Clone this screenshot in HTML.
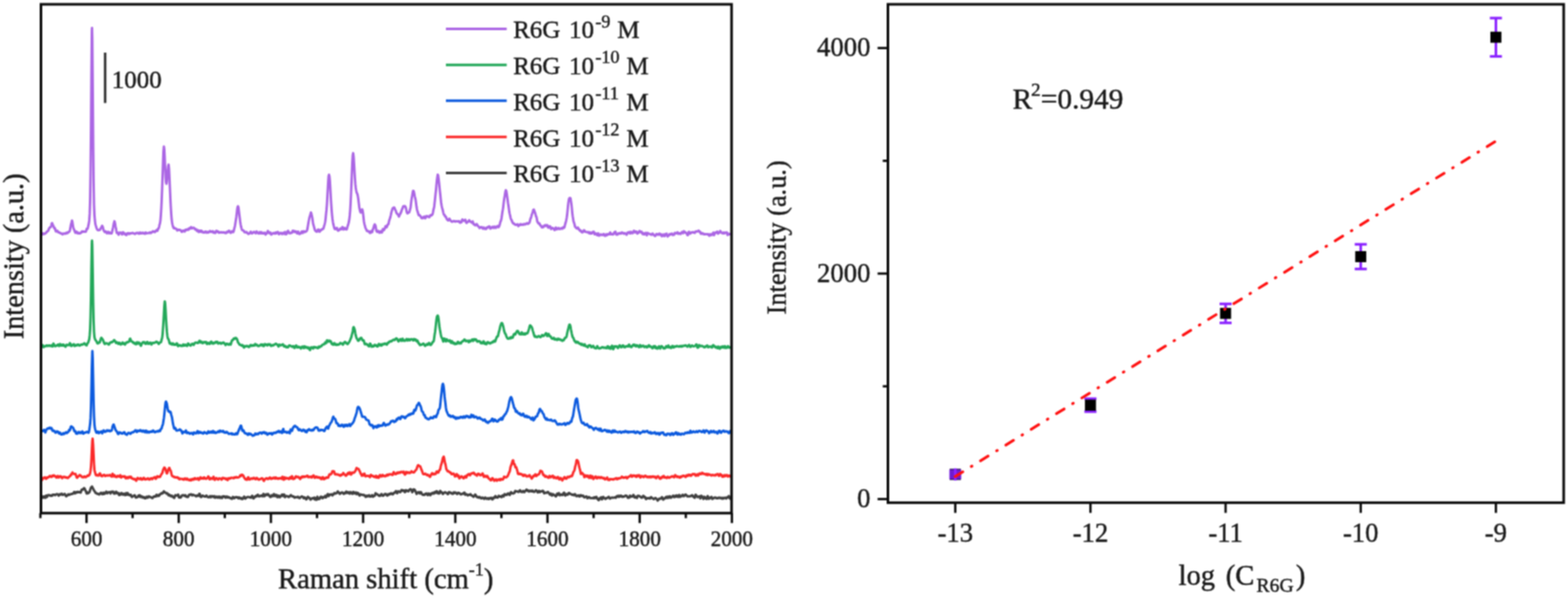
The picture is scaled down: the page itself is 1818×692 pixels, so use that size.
<!DOCTYPE html>
<html><head><meta charset="utf-8"><title>R6G SERS</title>
<style>html,body{margin:0;padding:0;background:#fff;width:1818px;height:692px;overflow:hidden}svg{display:block}</style>
</head><body><div id="w">
<svg width="1818" height="692" viewBox="0 0 1818 692" font-family="'Liberation Serif','Times New Roman',serif">
<defs><filter id="soft" x="0" y="0" width="1818" height="692" filterUnits="userSpaceOnUse" color-interpolation-filters="sRGB"><feConvolveMatrix order="3" kernelMatrix="1 2 1 2 4 2 1 2 1" divisor="16" edgeMode="duplicate"/></filter></defs>
<g filter="url(#soft)">
<rect width="1818" height="692" fill="#fff"/>
<path d="M48.0 575.3L48.5 575.0L49.0 575.7L49.5 576.7L50.0 577.0L50.5 576.2L51.0 575.3L51.5 575.4L52.0 576.5L52.5 577.1L53.0 575.9L53.5 574.4L54.0 574.9L54.5 576.1L55.0 575.3L55.5 574.0L56.0 574.0L56.5 574.0L57.0 573.9L57.5 574.0L58.0 574.3L58.5 574.8L59.0 574.6L59.5 574.3L60.0 574.8L60.5 574.6L61.0 573.5L61.5 573.3L62.0 573.5L62.5 573.4L63.0 573.3L63.5 573.7L64.0 574.0L64.5 573.5L65.0 573.1L65.5 573.0L66.0 572.7L66.5 572.8L67.0 573.3L67.5 573.6L68.0 574.5L68.5 574.0L69.0 572.8L69.5 572.9L70.0 573.1L70.5 573.4L71.0 573.0L71.5 572.2L72.0 572.7L72.5 573.6L73.0 573.7L73.5 573.3L74.0 573.2L74.5 572.8L75.0 572.5L75.5 573.2L76.0 574.2L76.5 575.0L77.0 575.3L77.5 574.8L78.0 574.3L78.5 573.8L79.0 573.0L79.5 573.3L80.0 573.8L80.5 573.2L81.0 572.9L81.5 573.1L82.0 573.1L82.5 572.6L83.0 572.5L83.5 572.7L84.0 572.3L84.5 572.1L85.0 572.1L85.5 571.1L86.0 570.3L86.5 570.9L87.0 571.9L87.5 571.4L88.0 570.4L88.5 570.5L89.0 570.9L89.5 570.2L90.0 570.1L90.5 570.6L91.0 570.2L91.5 570.2L92.0 570.5L92.5 570.3L93.0 570.8L93.5 571.1L94.0 569.8L94.5 568.0L95.0 567.4L95.5 567.6L96.0 567.5L96.5 566.9L97.0 566.2L97.5 565.8L98.0 566.2L98.5 567.3L99.0 568.5L99.5 569.3L100.0 570.7L100.5 572.1L101.0 571.3L101.5 570.8L102.0 571.9L102.5 571.6L103.0 570.7L103.5 570.8L104.0 569.9L104.5 568.2L105.0 566.6L105.5 565.2L106.0 564.6L106.5 564.3L106.7 563.9L107.0 564.6L107.5 565.9L108.0 566.3L108.5 567.6L109.0 568.7L109.5 569.0L110.0 569.7L110.5 571.0L111.0 571.5L111.5 571.4L112.0 571.7L112.5 572.3L113.0 572.4L113.5 572.6L114.0 572.5L114.5 572.8L115.0 573.3L115.5 572.8L116.0 572.2L116.5 571.9L117.0 571.1L117.5 571.3L118.0 572.2L118.5 572.8L119.0 572.8L119.5 571.5L120.0 571.1L120.5 572.6L121.0 572.4L121.5 571.5L122.0 571.9L122.5 571.2L123.0 569.9L123.5 570.1L124.0 571.2L124.5 571.8L125.0 571.0L125.5 570.6L126.0 570.7L126.5 570.4L127.0 570.3L127.5 571.2L128.0 572.0L128.5 571.4L129.0 570.1L129.5 569.9L130.0 570.4L130.5 570.3L131.0 569.8L131.5 570.3L132.0 572.1L132.5 572.1L133.0 571.1L133.5 572.0L134.0 571.7L134.5 570.0L135.0 570.1L135.5 571.2L136.0 571.8L136.5 571.7L137.0 571.5L137.5 572.2L138.0 573.8L138.5 573.8L139.0 572.0L139.5 572.1L140.0 573.2L140.5 572.2L141.0 571.5L141.5 572.3L142.0 573.0L142.5 573.4L143.0 572.8L143.5 572.2L144.0 572.7L144.5 573.6L145.0 574.1L145.5 573.0L146.0 571.6L146.5 572.3L147.0 573.5L147.5 572.5L148.0 571.4L148.5 572.2L149.0 573.6L149.5 573.9L150.0 573.5L150.5 574.0L151.0 574.2L151.5 573.5L152.0 574.1L152.5 575.7L153.0 576.1L153.5 575.5L154.0 575.2L154.5 575.2L155.0 574.7L155.5 574.2L156.0 574.0L156.5 574.4L157.0 575.7L157.5 576.7L158.0 576.3L158.5 576.3L159.0 576.5L159.5 576.0L160.0 575.4L160.5 574.4L161.0 575.2L161.5 575.5L162.0 574.0L162.5 574.6L163.0 576.2L163.5 575.8L164.0 575.2L164.5 575.4L165.0 576.1L165.5 576.9L166.0 576.9L166.5 576.3L167.0 576.1L167.5 576.9L168.0 577.7L168.5 577.7L169.0 577.3L169.5 576.5L170.0 575.7L170.5 576.1L171.0 577.0L171.5 576.8L172.0 575.6L172.5 575.3L173.0 576.0L173.5 576.2L174.0 575.9L174.5 576.1L175.0 576.4L175.5 576.7L176.0 577.1L176.5 577.3L177.0 577.3L177.5 576.5L178.0 575.6L178.5 575.5L179.0 575.5L179.5 575.4L180.0 575.7L180.5 575.7L181.0 574.1L181.5 573.6L182.0 574.8L182.5 575.0L183.0 574.3L183.5 574.0L184.0 574.8L184.5 574.7L185.0 573.5L185.5 572.9L186.0 572.8L186.5 572.4L187.0 571.7L187.5 571.6L188.0 572.1L188.5 571.8L189.0 571.2L189.5 570.2L190.0 569.4L190.5 570.2L191.0 570.8L191.5 570.8L192.0 571.0L192.5 571.4L193.0 572.1L193.5 572.0L194.0 571.7L194.5 572.4L195.0 573.6L195.5 574.2L196.0 573.5L196.5 573.5L197.0 574.4L197.5 574.8L198.0 575.3L198.5 575.2L199.0 574.4L199.5 574.7L200.0 575.7L200.5 576.1L201.0 575.9L201.5 576.8L202.0 577.2L202.5 575.7L203.0 574.3L203.5 573.9L204.0 574.0L204.5 574.3L205.0 574.3L205.5 574.5L206.0 574.4L206.5 573.3L207.0 574.2L207.5 576.6L208.0 576.8L208.5 576.1L209.0 576.3L209.5 576.7L210.0 576.1L210.5 574.9L211.0 574.2L211.5 574.3L212.0 574.2L212.5 573.9L213.0 574.1L213.5 574.4L214.0 574.8L214.5 574.8L215.0 574.0L215.5 574.7L216.0 575.8L216.5 575.7L217.0 575.8L217.5 576.2L218.0 576.0L218.5 575.0L219.0 573.7L219.5 573.7L220.0 573.6L220.5 573.1L221.0 573.2L221.5 572.9L222.0 573.0L222.5 574.1L223.0 574.3L223.5 573.8L224.0 573.5L224.5 573.8L225.0 574.0L225.5 574.2L226.0 574.3L226.5 574.5L227.0 575.0L227.5 575.3L228.0 574.9L228.5 574.2L229.0 574.3L229.5 574.8L230.0 574.8L230.5 573.9L231.0 572.3L231.5 572.3L232.0 574.3L232.5 575.7L233.0 576.2L233.5 576.0L234.0 575.4L234.5 574.6L235.0 574.4L235.5 575.0L236.0 575.1L236.5 575.3L237.0 575.5L237.5 575.7L238.0 575.7L238.5 575.0L239.0 574.5L239.5 574.4L240.0 575.3L240.5 576.1L241.0 576.0L241.5 576.3L242.0 576.5L242.5 576.4L243.0 575.8L243.5 575.1L244.0 575.9L244.5 576.4L245.0 575.5L245.5 575.0L246.0 575.1L246.5 575.1L247.0 575.5L247.5 576.2L248.0 575.4L248.5 575.0L249.0 576.6L249.5 577.1L250.0 576.5L250.5 576.1L251.0 575.6L251.5 575.7L252.0 576.5L252.5 577.0L253.0 576.8L253.5 576.1L254.0 575.5L254.5 576.0L255.0 577.1L255.5 577.2L256.0 576.0L256.5 576.0L257.0 576.9L257.5 577.2L258.0 576.3L258.5 575.3L259.0 575.2L259.5 575.7L260.0 575.5L260.5 575.5L261.0 576.6L261.5 577.0L262.0 576.2L262.5 575.6L263.0 576.3L263.5 576.7L264.0 575.8L264.5 576.3L265.0 576.7L265.5 576.4L266.0 576.6L266.5 576.9L267.0 577.4L267.5 577.3L268.0 577.5L268.5 578.2L269.0 578.2L269.5 577.3L270.0 576.0L270.5 576.1L271.0 577.3L271.5 577.5L272.0 577.2L272.5 576.9L273.0 576.3L273.5 576.2L274.0 576.2L274.5 576.5L275.0 576.4L275.5 576.3L276.0 577.3L276.5 577.8L277.0 576.6L277.5 576.5L278.0 577.3L278.5 577.6L279.0 578.1L279.5 577.7L280.0 577.2L280.5 577.8L281.0 578.5L281.5 578.1L282.0 577.6L282.5 576.7L283.0 575.6L283.5 576.2L284.0 577.8L284.5 578.0L285.0 577.5L285.5 577.1L286.0 576.6L286.5 576.3L287.0 576.1L287.5 576.2L288.0 576.0L288.5 576.1L289.0 576.4L289.5 576.4L290.0 576.7L290.5 576.8L291.0 576.9L291.5 576.6L292.0 574.9L292.5 574.6L293.0 576.1L293.5 577.4L294.0 577.7L294.5 577.2L295.0 576.2L295.5 575.6L296.0 576.0L296.5 575.9L297.0 574.7L297.5 574.4L298.0 575.1L298.5 574.5L299.0 573.4L299.5 574.4L300.0 575.3L300.5 575.2L301.0 575.4L301.5 575.1L302.0 574.6L302.5 574.8L303.0 574.5L303.5 574.2L304.0 575.1L304.5 575.3L305.0 573.7L305.5 572.5L306.0 573.6L306.5 575.2L307.0 575.0L307.5 574.1L308.0 573.6L308.5 572.8L309.0 572.8L309.5 573.9L310.0 573.9L310.5 572.7L311.0 572.7L311.5 573.5L312.0 574.2L312.5 574.9L313.0 575.7L313.5 576.1L314.0 576.1L314.5 575.3L315.0 574.0L315.5 574.1L316.0 575.2L316.5 575.2L317.0 574.0L317.5 572.7L318.0 573.0L318.5 574.7L319.0 575.1L319.5 574.5L320.0 573.8L320.5 573.6L321.0 574.9L321.5 576.2L322.0 576.4L322.5 575.4L323.0 574.5L323.5 574.6L324.0 576.0L324.5 576.4L325.0 575.3L325.5 575.1L326.0 575.1L326.5 574.0L327.0 573.2L327.5 574.3L328.0 575.0L328.5 574.2L329.0 573.1L329.5 573.3L330.0 575.3L330.5 576.2L331.0 575.5L331.5 575.1L332.0 574.9L332.5 575.1L333.0 575.2L333.5 575.3L334.0 575.5L334.5 576.2L335.0 576.2L335.5 575.3L336.0 575.2L336.5 575.0L337.0 574.0L337.5 574.0L338.0 575.1L338.5 575.1L339.0 575.2L339.5 575.6L340.0 575.4L340.5 575.6L341.0 576.2L341.5 576.9L342.0 576.7L342.5 576.1L343.0 576.4L343.5 576.4L344.0 576.1L344.5 576.3L345.0 576.3L345.5 575.8L346.0 576.4L346.5 577.1L347.0 577.2L347.5 577.4L348.0 576.7L348.5 576.2L349.0 576.0L349.5 575.5L350.0 575.4L350.5 575.8L351.0 576.1L351.5 576.3L352.0 577.5L352.5 577.5L353.0 576.4L353.5 576.8L354.0 577.2L354.5 577.8L355.0 578.9L355.5 578.6L356.0 577.6L356.5 576.4L357.0 575.8L357.5 576.5L358.0 576.8L358.5 576.9L359.0 577.5L359.5 578.4L360.0 579.1L360.5 578.9L361.0 578.3L361.5 577.6L362.0 577.7L362.5 577.4L363.0 577.3L363.5 578.0L364.0 577.1L364.5 576.8L365.0 578.8L365.5 579.1L366.0 577.4L366.5 577.8L367.0 579.3L367.5 577.8L368.0 575.8L368.5 576.9L369.0 578.6L369.5 578.5L370.0 578.2L370.5 578.3L371.0 577.6L371.5 576.2L372.0 575.6L372.5 575.9L373.0 575.8L373.5 576.5L374.0 577.5L374.5 577.0L375.0 576.1L375.5 576.1L376.0 576.4L376.5 575.9L377.0 574.8L377.5 575.5L378.0 576.6L378.5 575.8L379.0 574.3L379.5 573.3L380.0 572.7L380.5 573.7L381.0 575.1L381.5 574.4L382.0 573.2L382.5 573.2L383.0 573.5L383.5 573.4L384.0 573.0L384.5 573.0L385.0 573.9L385.5 574.2L386.0 572.9L386.5 572.7L387.0 572.9L387.5 571.8L388.0 571.5L388.5 572.0L389.0 572.2L389.5 571.7L390.0 571.5L390.5 571.5L391.0 570.6L391.5 569.6L392.0 570.1L392.5 571.0L393.0 570.9L393.5 571.6L394.0 572.5L394.5 572.3L395.0 571.5L395.5 571.1L396.0 571.2L396.5 570.7L397.0 570.8L397.5 571.5L398.0 571.8L398.5 572.5L399.0 572.1L399.5 571.3L400.0 571.8L400.5 571.8L401.0 570.4L401.5 569.8L402.0 570.2L402.5 571.0L403.0 571.5L403.5 571.0L404.0 570.4L404.5 570.8L405.0 572.0L405.5 572.2L406.0 571.0L406.5 570.3L407.0 571.0L407.5 571.4L408.0 571.8L408.5 572.4L409.0 571.7L409.5 570.2L410.0 570.4L410.5 571.7L411.0 572.0L411.5 571.8L412.0 571.1L412.5 570.8L413.0 571.9L413.5 572.9L414.0 572.2L414.5 571.2L415.0 571.4L415.5 571.9L416.0 572.7L416.5 574.0L417.0 574.5L417.5 573.6L418.0 572.9L418.5 573.2L419.0 573.3L419.5 573.3L420.0 573.7L420.5 573.6L421.0 573.5L421.5 574.1L422.0 574.0L422.5 573.9L423.0 574.5L423.5 575.2L424.0 576.0L424.5 575.9L425.0 575.0L425.5 574.4L426.0 574.9L426.5 575.3L427.0 575.2L427.5 574.7L428.0 574.0L428.5 574.7L429.0 575.7L429.5 575.5L430.0 575.4L430.5 575.3L431.0 574.3L431.5 573.9L432.0 574.9L432.5 575.7L433.0 575.3L433.5 574.7L434.0 574.8L434.5 574.5L435.0 572.8L435.5 571.7L436.0 572.2L436.5 572.8L437.0 573.0L437.5 572.9L438.0 573.3L438.5 574.1L439.0 574.3L439.5 574.6L440.0 574.9L440.5 574.1L441.0 573.9L441.5 574.2L442.0 572.9L442.5 572.7L443.0 574.1L443.5 574.5L444.0 574.3L444.5 574.5L445.0 574.1L445.5 573.3L446.0 572.7L446.5 572.5L447.0 572.9L447.5 573.1L448.0 572.9L448.5 574.1L449.0 574.6L449.5 573.1L450.0 573.0L450.5 573.7L451.0 573.1L451.5 572.4L452.0 572.9L452.5 572.8L453.0 571.9L453.5 571.6L454.0 572.0L454.5 572.6L455.0 573.1L455.5 573.0L456.0 572.0L456.5 571.3L457.0 571.2L457.5 571.3L458.0 571.0L458.5 569.9L459.0 569.3L459.5 569.6L460.0 570.8L460.5 571.7L461.0 570.9L461.5 569.5L462.0 569.4L462.5 569.9L463.0 569.9L463.5 570.2L464.0 570.5L464.5 570.0L465.0 568.7L465.5 568.0L466.0 568.2L466.5 568.2L467.0 568.9L467.5 569.1L468.0 568.5L468.5 568.6L469.0 569.6L469.5 570.5L470.0 569.4L470.5 568.1L471.0 568.8L471.5 569.3L472.0 568.7L472.5 568.7L473.0 569.3L473.5 569.5L474.0 568.9L474.5 568.0L475.0 567.6L475.5 567.0L476.0 566.9L476.5 567.4L477.0 567.7L477.5 569.0L478.0 570.6L478.5 569.8L479.0 567.9L479.5 567.2L480.0 567.6L480.5 567.5L481.0 567.9L481.5 569.4L482.0 570.0L482.5 571.3L483.0 572.6L483.5 571.8L484.0 570.9L484.5 571.0L485.0 570.7L485.5 570.5L486.0 571.3L486.5 572.1L487.0 571.4L487.5 570.4L488.0 570.4L488.5 571.1L489.0 572.2L489.5 573.0L490.0 573.5L490.5 573.6L491.0 573.4L491.5 573.5L492.0 573.7L492.5 573.0L493.0 572.4L493.5 572.7L494.0 572.0L494.5 571.9L495.0 572.9L495.5 573.4L496.0 573.9L496.5 573.0L497.0 572.0L497.5 572.1L498.0 572.7L498.5 573.8L499.0 574.1L499.5 573.0L500.0 572.0L500.5 572.2L501.0 572.3L501.5 571.3L502.0 571.1L502.5 572.1L503.0 572.2L503.5 571.4L504.0 570.4L504.5 570.2L505.0 571.2L505.5 570.9L506.0 569.6L506.5 569.4L507.0 570.5L507.5 571.9L508.0 571.4L508.5 570.8L509.0 572.1L509.5 572.0L510.0 569.6L510.5 569.0L511.0 570.4L511.5 570.7L512.0 570.4L512.5 570.9L513.0 572.0L513.5 572.6L514.0 571.9L514.5 571.1L515.0 571.2L515.5 570.9L516.0 570.5L516.5 571.1L517.0 571.2L517.5 571.1L518.0 571.5L518.5 572.0L519.0 572.8L519.5 572.7L520.0 571.2L520.5 570.4L521.0 570.6L521.5 571.0L522.0 571.2L522.5 570.9L523.0 571.2L523.5 572.2L524.0 572.2L524.5 572.1L525.0 572.6L525.5 572.0L526.0 570.6L526.5 570.9L527.0 571.4L527.5 570.9L528.0 570.7L528.5 571.2L529.0 571.7L529.5 572.1L530.0 572.7L530.5 572.3L531.0 571.1L531.5 571.1L532.0 571.6L532.5 571.5L533.0 571.7L533.5 572.5L534.0 572.9L534.5 573.1L535.0 573.0L535.5 572.5L536.0 572.3L536.5 572.2L537.0 572.4L537.5 572.3L538.0 571.1L538.5 571.0L539.0 572.7L539.5 573.5L540.0 573.0L540.5 572.6L541.0 572.9L541.5 573.5L542.0 573.9L542.5 574.3L543.0 573.8L543.5 573.4L544.0 573.7L544.5 573.7L545.0 573.3L545.5 572.8L546.0 573.5L546.5 574.3L547.0 574.1L547.5 574.4L548.0 574.9L548.5 575.5L549.0 575.9L549.5 575.2L550.0 574.6L550.5 574.2L551.0 573.2L551.5 573.7L552.0 575.0L552.5 575.8L553.0 576.3L553.5 575.9L554.0 575.9L554.5 576.5L555.0 576.9L555.5 576.8L556.0 576.0L556.5 576.3L557.0 577.0L557.5 577.3L558.0 577.8L558.5 577.6L559.0 576.8L559.5 576.7L560.0 577.3L560.5 577.6L561.0 578.1L561.5 578.4L562.0 577.5L562.5 576.6L563.0 577.1L563.5 577.8L564.0 578.0L564.5 578.3L565.0 578.1L565.5 577.6L566.0 577.4L566.5 577.9L567.0 578.5L567.5 577.9L568.0 577.3L568.5 577.6L569.0 577.7L569.5 576.9L570.0 577.2L570.5 578.7L571.0 578.9L571.5 578.3L572.0 577.4L572.5 576.6L573.0 577.2L573.5 577.1L574.0 575.6L574.5 575.0L575.0 575.8L575.5 576.6L576.0 576.7L576.5 576.7L577.0 576.8L577.5 576.2L578.0 574.9L578.5 574.7L579.0 575.3L579.5 575.6L580.0 575.5L580.5 575.5L581.0 576.0L581.5 576.3L582.0 575.3L582.5 574.3L583.0 574.2L583.5 575.0L584.0 575.5L584.5 574.0L585.0 572.8L585.5 573.3L586.0 573.5L586.5 573.1L587.0 573.6L587.5 573.8L588.0 573.0L588.5 572.3L589.0 572.0L589.5 571.9L590.0 572.3L590.5 573.5L591.0 573.7L591.5 572.5L592.0 571.2L592.5 570.4L593.0 570.9L593.5 571.8L594.0 571.9L594.5 571.9L595.0 572.0L595.5 571.4L596.0 571.4L596.5 571.3L597.0 569.7L597.5 569.1L598.0 569.5L598.5 569.5L599.0 569.6L599.5 569.7L600.0 569.6L600.5 570.0L601.0 570.3L601.5 570.1L602.0 569.5L602.5 568.6L603.0 568.3L603.5 569.1L604.0 569.9L604.5 570.1L605.0 570.3L605.5 570.4L606.0 569.7L606.5 569.1L607.0 569.6L607.5 570.3L608.0 570.5L608.5 569.8L609.0 569.0L609.5 568.7L610.0 568.1L610.5 567.5L611.0 567.9L611.5 568.9L612.0 569.1L612.5 568.6L613.0 569.2L613.5 569.8L614.0 569.3L614.5 569.0L615.0 568.7L615.5 568.8L616.0 569.5L616.5 569.5L617.0 568.6L617.5 568.7L618.0 569.8L618.5 570.0L619.0 570.0L619.5 570.2L620.0 569.9L620.5 569.2L621.0 568.5L621.5 568.2L622.0 568.7L622.5 569.0L623.0 569.8L623.5 570.8L624.0 570.5L624.5 569.3L625.0 568.9L625.5 570.1L626.0 570.6L626.5 569.8L627.0 569.6L627.5 569.6L628.0 569.6L628.5 569.2L629.0 568.8L629.5 568.8L630.0 569.6L630.5 571.2L631.0 571.8L631.5 571.2L632.0 571.0L632.5 571.1L633.0 571.3L633.5 571.3L634.0 571.1L634.5 570.8L635.0 570.2L635.5 570.3L636.0 571.1L636.5 571.7L637.0 572.4L637.5 573.2L638.0 572.6L638.5 572.1L639.0 572.9L639.5 574.0L640.0 574.5L640.5 573.8L641.0 572.7L641.5 573.0L642.0 573.8L642.5 574.0L643.0 573.9L643.5 574.1L644.0 575.0L644.5 575.4L645.0 574.8L645.5 573.5L646.0 572.1L646.5 572.3L647.0 573.5L647.5 573.1L648.0 571.6L648.5 572.5L649.0 574.2L649.5 574.1L650.0 573.3L650.5 573.3L651.0 573.1L651.5 573.1L652.0 573.9L652.5 573.7L653.0 572.4L653.5 571.5L654.0 571.0L654.5 571.7L655.0 573.7L655.5 574.4L656.0 573.8L656.5 573.2L657.0 572.6L657.5 572.8L658.0 573.5L658.5 573.3L659.0 572.4L659.5 571.3L660.0 571.3L660.5 572.1L661.0 572.5L661.5 572.7L662.0 572.6L662.5 572.9L663.0 573.4L663.5 573.7L664.0 573.5L664.5 573.1L665.0 573.5L665.5 574.1L666.0 573.6L666.5 572.8L667.0 573.0L667.5 574.0L668.0 574.9L668.5 575.1L669.0 574.9L669.5 575.0L670.0 574.6L670.5 574.1L671.0 574.3L671.5 575.2L672.0 575.6L672.5 575.0L673.0 574.1L673.5 573.9L674.0 574.6L674.5 575.0L675.0 574.8L675.5 574.6L676.0 574.5L676.5 575.1L677.0 576.1L677.5 576.5L678.0 576.2L678.5 576.0L679.0 575.9L679.5 575.5L680.0 575.5L680.5 576.6L681.0 577.5L681.5 577.4L682.0 576.6L682.5 576.2L683.0 576.2L683.5 576.6L684.0 577.1L684.5 577.3L685.0 577.4L685.5 577.3L686.0 577.3L686.5 577.4L687.0 577.2L687.5 577.1L688.0 577.6L688.5 577.4L689.0 576.4L689.5 576.4L690.0 577.4L690.5 577.2L691.0 576.0L691.5 575.9L692.0 577.0L692.5 578.0L693.0 578.5L693.5 579.1L694.0 579.8L694.5 579.4L695.0 577.7L695.5 577.7L696.0 578.1L696.5 576.8L697.0 576.4L697.5 577.7L698.0 578.8L698.5 578.1L699.0 576.3L699.5 576.0L700.0 576.7L700.5 577.1L701.0 577.4L701.5 578.0L702.0 578.3L702.5 577.7L703.0 577.2L703.5 577.5L704.0 577.3L704.5 576.7L705.0 576.5L705.5 575.9L706.0 575.9L706.5 577.2L707.0 577.8L707.5 577.8L708.0 577.4L708.5 577.0L709.0 576.9L709.5 576.7L710.0 576.8L710.5 577.0L711.0 576.8L711.5 576.9L712.0 576.8L712.5 576.6L713.0 576.5L713.5 576.8L714.0 577.1L714.5 576.1L715.0 575.3L715.5 575.8L716.0 575.4L716.5 574.6L717.0 575.8L717.5 576.0L718.0 574.6L718.5 575.0L719.0 575.5L719.5 574.7L720.0 574.5L720.5 575.0L721.0 575.8L721.5 576.0L722.0 575.5L722.5 575.4L723.0 575.8L723.5 575.6L724.0 575.5L724.5 575.3L725.0 574.5L725.5 574.5L726.0 574.6L726.5 574.6L727.0 575.0L727.5 576.0L728.0 577.0L728.5 576.5L729.0 576.2L729.5 576.8L730.0 575.9L730.5 574.5L731.0 575.1L731.5 575.8L732.0 575.4L732.5 575.4L733.0 575.5L733.5 575.2L734.0 574.0L734.5 573.7L735.0 574.8L735.5 576.2L736.0 576.7L736.5 575.9L737.0 575.6L737.5 576.3L738.0 576.9L738.5 577.2L739.0 576.0L739.5 574.6L740.0 574.7L740.5 574.9L741.0 574.8L741.5 575.1L742.0 575.6L742.5 575.8L743.0 576.2L743.5 576.8L744.0 577.0L744.5 576.9L745.0 576.2L745.5 575.0L746.0 574.7L746.5 575.7L747.0 576.2L747.5 575.9L748.0 576.3L748.5 577.7L749.0 578.5L749.5 577.7L750.0 577.2L750.5 577.8L751.0 577.6L751.5 577.5L752.0 577.7L752.5 577.2L753.0 577.3L753.5 577.9L754.0 577.7L754.5 576.6L755.0 576.2L755.5 576.8L756.0 577.4L756.5 577.5L757.0 577.7L757.5 578.2L758.0 578.5L758.5 577.9L759.0 577.7L759.5 577.9L760.0 577.3L760.5 577.6L761.0 578.3L761.5 578.3L762.0 579.3L762.5 580.2L763.0 579.8L763.5 579.1L764.0 578.5L764.5 577.9L765.0 578.0L765.5 578.2L766.0 577.9L766.5 577.7L767.0 576.8L767.5 576.3L768.0 577.2L768.5 578.4L769.0 579.1L769.5 578.5L770.0 577.8L770.5 578.0L771.0 577.8L771.5 577.1L772.0 576.2L772.5 575.9L773.0 577.0L773.5 577.3L774.0 575.7L774.5 575.7L775.0 576.9L775.5 577.1L776.0 576.3L776.5 575.2L777.0 575.6L777.5 576.7L778.0 577.0L778.5 576.3L779.0 575.9L779.5 575.8L780.0 575.1L780.5 574.6L781.0 575.3L781.5 576.3L782.0 576.1L782.5 574.9L783.0 574.6L783.5 575.8L784.0 575.7L784.5 574.1L785.0 574.4L785.5 575.7L786.0 575.9L786.5 576.1L787.0 574.7L787.5 573.7L788.0 575.2L788.5 576.0L789.0 575.5L789.5 574.8L790.0 574.9L790.5 575.1L791.0 573.9L791.5 573.4L792.0 574.4L792.5 574.9L793.0 575.1L793.5 574.5L794.0 574.0L794.5 573.4L795.0 573.2L795.5 574.2L796.0 574.3L796.5 574.6L797.0 575.4L797.5 575.3L798.0 575.2L798.5 575.3L799.0 575.3L799.5 575.4L800.0 575.4L800.5 575.1L801.0 574.7L801.5 574.9L802.0 574.7L802.5 573.9L803.0 574.5L803.5 575.5L804.0 575.4L804.5 575.7L805.0 576.8L805.5 577.0L806.0 575.0L806.5 573.5L807.0 573.8L807.5 574.5L808.0 575.2L808.5 575.9L809.0 576.3L809.5 575.8L810.0 575.7L810.5 575.6L811.0 575.3L811.5 576.4L812.0 577.8L812.5 576.6L813.0 574.7L813.5 574.8L814.0 576.1L814.5 576.3L815.0 576.7L815.5 578.4L816.0 577.7L816.5 575.8L817.0 576.2L817.5 577.5L818.0 577.3L818.5 576.9L819.0 578.3L819.5 578.4L820.0 576.3L820.5 575.0L821.0 575.8L821.5 577.5L822.0 578.2L822.5 577.5L823.0 576.9L823.5 577.3L824.0 577.3L824.5 576.2L825.0 575.9L825.5 577.2L826.0 578.3L826.5 578.1L827.0 577.5L827.5 577.4L828.0 577.3L828.5 576.6L829.0 576.7L829.5 577.0L830.0 576.8L830.5 577.0L831.0 577.6L831.5 577.4L832.0 577.2L832.5 577.5L833.0 577.3L833.5 576.8L834.0 577.1L834.5 577.4L835.0 576.9L835.5 576.8L836.0 577.2L836.5 577.4L837.0 578.0L837.5 578.1L838.0 577.0L838.5 577.1L839.0 577.8L839.5 577.4L840.0 576.9L840.5 577.0L841.0 576.9L841.5 577.4L842.0 577.8L842.5 577.1L843.0 576.4L843.5 576.4L844.0 576.7L844.5 576.0L845.0 574.9L845.5 575.5L846.0 577.3L846.5 578.1L847.0 577.7L847.5 577.3" fill="none" stroke="#404040" stroke-width="2.8" stroke-linejoin="round"/>
<path d="M48.0 554.5L48.5 555.2L49.0 556.2L49.5 555.2L50.0 553.8L50.5 553.8L51.0 554.1L51.5 553.7L52.0 553.2L52.5 553.7L53.0 554.7L53.5 555.0L54.0 554.6L54.5 553.4L55.0 553.3L55.5 553.6L56.0 552.9L56.5 552.9L57.0 552.7L57.5 551.8L58.0 551.7L58.5 552.0L59.0 552.4L59.5 552.9L60.0 552.7L60.5 551.6L61.0 551.3L61.5 551.9L62.0 551.8L62.5 551.0L63.0 551.4L63.5 551.9L64.0 551.8L64.5 552.6L65.0 553.2L65.5 553.6L66.0 553.2L66.5 552.0L67.0 551.7L67.5 552.5L68.0 553.5L68.5 553.4L69.0 552.4L69.5 552.0L70.0 552.0L70.5 552.2L71.0 552.6L71.5 553.6L72.0 554.3L72.5 553.4L73.0 552.9L73.5 553.1L74.0 552.6L74.5 552.6L75.0 553.3L75.5 553.3L76.0 553.0L76.5 553.5L77.0 553.4L77.5 553.4L78.0 553.9L78.5 554.1L79.0 553.9L79.5 553.2L80.0 552.8L80.5 552.2L81.0 551.9L81.5 551.8L82.0 550.4L82.5 549.7L83.0 550.1L83.5 548.6L84.0 547.6L84.5 548.5L85.0 548.9L85.5 549.2L86.0 549.4L86.5 549.5L87.0 549.2L87.5 549.4L88.0 550.6L88.5 552.0L89.0 553.5L89.5 553.8L90.0 552.8L90.5 552.5L91.0 552.3L91.5 551.6L92.0 550.8L92.5 550.6L93.0 551.0L93.5 551.3L94.0 551.7L94.5 552.3L95.0 553.0L95.5 552.9L96.0 552.9L96.5 553.3L97.0 553.0L97.5 552.4L98.0 552.1L98.5 552.4L99.0 553.1L99.5 553.1L100.0 552.7L100.5 552.3L101.0 551.8L101.5 551.2L102.0 551.0L102.5 551.5L103.0 551.3L103.5 550.6L104.0 549.9L104.5 548.1L105.0 545.5L105.5 541.1L106.0 532.6L106.5 521.5L107.0 511.4L107.4 508.3L107.5 509.3L108.0 515.8L108.5 526.7L109.0 537.8L109.5 544.4L110.0 546.9L110.5 548.7L111.0 550.4L111.5 550.9L112.0 550.3L112.5 550.5L113.0 551.2L113.5 551.2L114.0 551.3L114.5 550.9L115.0 549.8L115.5 548.9L116.0 548.6L116.5 550.2L117.0 551.3L117.5 551.0L118.0 551.8L118.5 552.1L119.0 551.3L119.5 551.0L120.0 550.8L120.5 550.4L121.0 550.6L121.5 551.2L122.0 551.8L122.5 551.6L123.0 551.2L123.5 551.2L124.0 550.8L124.5 550.9L125.0 551.3L125.5 551.2L126.0 551.2L126.5 551.1L127.0 550.7L127.5 550.5L128.0 551.2L128.5 551.7L129.0 552.1L129.5 552.5L130.0 551.0L130.5 549.2L131.0 550.5L131.5 552.2L132.0 551.7L132.5 550.7L133.0 551.1L133.5 552.3L134.0 552.8L134.5 552.4L135.0 552.6L135.5 553.0L136.0 552.3L136.5 551.5L137.0 552.0L137.5 552.2L138.0 552.2L138.5 552.5L139.0 551.4L139.5 550.8L140.0 552.7L140.5 553.5L141.0 552.6L141.5 552.3L142.0 552.2L142.5 552.0L143.0 552.4L143.5 552.6L144.0 552.2L144.5 552.0L145.0 552.6L145.5 554.1L146.0 554.6L146.5 554.0L147.0 553.2L147.5 553.0L148.0 554.2L148.5 554.3L149.0 553.5L149.5 553.2L150.0 552.6L150.5 553.0L151.0 553.6L151.5 552.7L152.0 552.6L152.5 554.0L153.0 554.7L153.5 554.7L154.0 554.8L154.5 554.9L155.0 555.5L155.5 555.3L156.0 555.1L156.5 555.3L157.0 555.8L157.5 557.0L158.0 557.2L158.5 556.1L159.0 554.7L159.5 554.0L160.0 554.3L160.5 554.9L161.0 555.2L161.5 555.2L162.0 555.4L162.5 555.2L163.0 554.2L163.5 554.5L164.0 555.9L164.5 556.0L165.0 555.5L165.5 555.6L166.0 555.0L166.5 554.0L167.0 554.0L167.5 554.9L168.0 555.5L168.5 555.8L169.0 555.7L169.5 555.1L170.0 555.2L170.5 555.4L171.0 554.8L171.5 554.4L172.0 554.7L172.5 555.3L173.0 555.9L173.5 555.9L174.0 555.3L174.5 554.8L175.0 554.3L175.5 554.3L176.0 554.9L176.5 555.4L177.0 554.7L177.5 553.9L178.0 554.1L178.5 554.0L179.0 553.4L179.5 552.9L180.0 553.7L180.5 555.0L181.0 554.7L181.5 553.6L182.0 552.4L182.5 551.9L183.0 552.5L183.5 553.0L184.0 552.9L184.5 552.4L185.0 552.9L185.5 552.9L186.0 551.8L186.5 550.9L187.0 549.9L187.5 549.1L188.0 548.7L188.5 547.3L189.0 545.0L189.5 543.7L190.0 542.9L190.5 541.9L191.0 542.2L191.5 543.0L192.0 544.3L192.5 546.2L193.0 547.8L193.5 548.8L194.0 548.3L194.5 546.7L195.0 544.8L195.5 543.6L196.0 542.5L196.5 542.5L197.0 544.3L197.5 545.1L198.0 545.7L198.5 547.8L199.0 550.3L199.5 551.6L200.0 551.8L200.5 552.3L201.0 552.4L201.5 552.4L202.0 553.1L202.5 553.0L203.0 553.0L203.5 553.5L204.0 553.3L204.5 553.3L205.0 553.3L205.5 553.1L206.0 553.9L206.5 554.3L207.0 553.9L207.5 554.6L208.0 555.5L208.5 554.9L209.0 554.9L209.5 555.2L210.0 555.1L210.5 555.0L211.0 555.1L211.5 555.5L212.0 555.2L212.5 555.2L213.0 556.0L213.5 555.7L214.0 554.9L214.5 554.5L215.0 554.7L215.5 555.2L216.0 555.9L216.5 555.8L217.0 554.8L217.5 555.1L218.0 556.2L218.5 556.1L219.0 556.3L219.5 556.7L220.0 556.3L220.5 555.8L221.0 556.1L221.5 556.9L222.0 556.4L222.5 555.4L223.0 555.1L223.5 555.1L224.0 555.9L224.5 556.1L225.0 555.3L225.5 554.4L226.0 554.2L226.5 555.2L227.0 555.4L227.5 555.3L228.0 555.4L228.5 554.8L229.0 554.4L229.5 554.1L230.0 554.9L230.5 556.3L231.0 555.8L231.5 555.2L232.0 554.6L232.5 553.3L233.0 554.1L233.5 554.8L234.0 554.7L234.5 554.4L235.0 553.9L235.5 554.7L236.0 554.9L236.5 553.4L237.0 553.3L237.5 554.4L238.0 554.7L238.5 554.7L239.0 555.1L239.5 554.8L240.0 554.0L240.5 553.9L241.0 553.3L241.5 552.2L242.0 552.8L242.5 554.6L243.0 555.7L243.5 555.6L244.0 554.3L244.5 554.1L245.0 554.8L245.5 554.9L246.0 555.1L246.5 554.8L247.0 553.6L247.5 552.6L248.0 553.9L248.5 555.8L249.0 556.3L249.5 555.7L250.0 554.8L250.5 554.1L251.0 554.2L251.5 554.8L252.0 555.1L252.5 555.7L253.0 555.9L253.5 555.1L254.0 554.5L254.5 554.5L255.0 554.9L255.5 554.9L256.0 554.7L256.5 555.4L257.0 556.0L257.5 555.2L258.0 554.1L258.5 553.9L259.0 554.3L259.5 554.2L260.0 554.2L260.5 554.8L261.0 555.0L261.5 554.8L262.0 555.6L262.5 555.7L263.0 554.8L263.5 555.9L264.0 556.5L264.5 555.3L265.0 554.5L265.5 554.2L266.0 554.4L266.5 554.8L267.0 554.6L267.5 554.0L268.0 553.7L268.5 553.9L269.0 553.9L269.5 554.0L270.0 554.0L270.5 553.8L271.0 554.4L271.5 554.1L272.0 553.3L272.5 553.7L273.0 553.7L273.5 553.0L274.0 552.9L274.5 553.0L275.0 553.5L275.5 553.5L276.0 553.3L276.5 553.4L277.0 553.0L277.5 552.9L278.0 552.3L278.5 551.0L279.0 551.5L279.5 551.6L280.0 550.4L280.5 550.1L281.0 550.4L281.5 550.8L282.0 551.3L282.5 552.1L283.0 553.5L283.5 554.2L284.0 554.6L284.5 555.5L285.0 555.8L285.5 555.1L286.0 555.0L286.5 556.1L287.0 555.5L287.5 553.4L288.0 553.2L288.5 554.5L289.0 555.8L289.5 555.9L290.0 555.2L290.5 555.2L291.0 555.0L291.5 554.5L292.0 554.8L292.5 555.0L293.0 555.0L293.5 554.6L294.0 553.8L294.5 553.9L295.0 554.7L295.5 555.0L296.0 555.2L296.5 555.5L297.0 554.6L297.5 553.9L298.0 554.2L298.5 554.6L299.0 555.2L299.5 555.8L300.0 556.0L300.5 556.0L301.0 555.6L301.5 555.3L302.0 555.4L302.5 555.1L303.0 554.6L303.5 554.3L304.0 554.5L304.5 554.8L305.0 555.6L305.5 557.0L306.0 557.4L306.5 556.3L307.0 555.4L307.5 555.4L308.0 555.0L308.5 554.4L309.0 554.4L309.5 554.4L310.0 554.7L310.5 555.3L311.0 554.7L311.5 554.5L312.0 554.8L312.5 554.1L313.0 553.4L313.5 553.9L314.0 554.9L314.5 555.2L315.0 554.9L315.5 554.2L316.0 554.2L316.5 554.5L317.0 553.9L317.5 553.6L318.0 553.5L318.5 553.9L319.0 554.8L319.5 554.4L320.0 553.5L320.5 554.3L321.0 554.6L321.5 554.8L322.0 555.0L322.5 554.3L323.0 554.4L323.5 554.8L324.0 554.4L324.5 554.1L325.0 554.4L325.5 554.1L326.0 554.0L326.5 555.0L327.0 554.3L327.5 552.6L328.0 553.6L328.5 555.8L329.0 556.1L329.5 554.5L330.0 553.2L330.5 553.9L331.0 555.0L331.5 554.7L332.0 553.8L332.5 553.8L333.0 554.4L333.5 554.3L334.0 554.4L334.5 555.0L335.0 555.3L335.5 554.7L336.0 553.6L336.5 553.2L337.0 554.3L337.5 554.8L338.0 553.3L338.5 552.0L339.0 552.6L339.5 554.3L340.0 555.3L340.5 555.0L341.0 554.6L341.5 554.8L342.0 554.3L342.5 552.9L343.0 552.1L343.5 552.2L344.0 552.7L344.5 553.1L345.0 552.9L345.5 552.7L346.0 552.7L346.5 553.4L347.0 554.2L347.5 554.4L348.0 555.2L348.5 554.6L349.0 553.1L349.5 553.5L350.0 553.2L350.5 552.3L351.0 552.8L351.5 553.1L352.0 552.8L352.5 552.3L353.0 552.6L353.5 552.9L354.0 552.5L354.5 552.2L355.0 552.0L355.5 552.0L356.0 551.6L356.5 551.4L357.0 552.7L357.5 553.2L358.0 553.1L358.5 552.7L359.0 552.6L359.5 553.1L360.0 552.6L360.5 552.5L361.0 553.2L361.5 553.5L362.0 552.5L362.5 551.7L363.0 551.5L363.5 551.1L364.0 551.7L364.5 553.1L365.0 553.9L365.5 553.4L366.0 552.6L366.5 552.5L367.0 552.5L367.5 553.2L368.0 553.6L368.5 553.2L369.0 553.0L369.5 553.1L370.0 553.7L370.5 554.0L371.0 553.4L371.5 553.7L372.0 554.6L372.5 555.4L373.0 555.4L373.5 554.4L374.0 553.1L374.5 553.2L375.0 554.7L375.5 555.5L376.0 555.3L376.5 555.0L377.0 554.0L377.5 553.9L378.0 554.2L378.5 553.5L379.0 553.5L379.5 553.7L380.0 553.8L380.5 553.7L381.0 552.3L381.5 550.9L382.0 549.9L382.5 549.7L383.0 550.0L383.5 549.7L384.0 549.4L384.5 548.8L385.0 547.2L385.5 546.1L386.0 546.8L386.5 546.9L387.0 546.1L387.5 546.9L388.0 548.9L388.5 549.8L389.0 549.9L389.5 549.9L390.0 549.6L390.5 549.7L391.0 550.2L391.5 550.2L392.0 550.0L392.5 550.3L393.0 550.8L393.5 550.8L394.0 551.1L394.5 551.6L395.0 550.6L395.5 550.3L396.0 550.8L396.5 550.2L397.0 550.0L397.5 549.4L398.0 548.3L398.5 548.8L399.0 549.5L399.5 549.9L400.0 550.6L400.5 551.1L401.0 551.5L401.5 551.3L402.0 550.4L402.5 549.6L403.0 549.0L403.5 548.1L404.0 548.3L404.5 549.4L405.0 548.8L405.5 547.5L406.0 548.1L406.5 549.5L407.0 550.1L407.5 549.5L408.0 548.0L408.5 547.7L409.0 548.1L409.5 548.0L410.0 548.0L410.5 547.9L411.0 547.2L411.5 546.4L412.0 545.9L412.5 545.1L413.0 543.4L413.5 542.4L414.0 543.0L414.5 543.2L415.0 543.4L415.5 543.5L416.0 543.9L416.5 545.4L417.0 546.1L417.5 547.0L418.0 548.8L418.5 549.5L419.0 550.1L419.5 551.4L420.0 551.3L420.5 549.8L421.0 550.1L421.5 551.1L422.0 549.9L422.5 548.9L423.0 550.5L423.5 551.9L424.0 552.2L424.5 551.9L425.0 551.5L425.5 551.7L426.0 551.6L426.5 551.5L427.0 551.9L427.5 551.8L428.0 551.6L428.5 552.5L429.0 553.1L429.5 551.8L430.0 550.4L430.5 551.1L431.0 551.6L431.5 551.5L432.0 551.6L432.5 551.6L433.0 552.5L433.5 552.6L434.0 552.3L434.5 553.0L435.0 553.0L435.5 552.0L436.0 551.5L436.5 552.5L437.0 553.6L437.5 552.9L438.0 552.1L438.5 553.1L439.0 553.9L439.5 553.1L440.0 551.6L440.5 550.6L441.0 550.8L441.5 551.5L442.0 552.3L442.5 552.3L443.0 551.2L443.5 550.5L444.0 550.7L444.5 551.4L445.0 551.9L445.5 551.6L446.0 552.0L446.5 552.1L447.0 551.5L447.5 551.8L448.0 551.3L448.5 550.3L449.0 550.2L449.5 551.1L450.0 550.9L450.5 549.9L451.0 550.2L451.5 550.2L452.0 549.6L452.5 549.7L453.0 549.8L453.5 550.0L454.0 549.8L454.5 549.8L455.0 550.6L455.5 550.2L456.0 548.2L456.5 547.3L457.0 547.9L457.5 548.5L458.0 549.0L458.5 549.7L459.0 549.6L459.5 548.9L460.0 548.3L460.5 547.7L461.0 547.9L461.5 548.6L462.0 548.0L462.5 547.4L463.0 547.4L463.5 547.9L464.0 548.1L464.5 547.3L465.0 546.9L465.5 547.1L466.0 547.0L466.5 547.2L467.0 547.7L467.5 547.1L468.0 546.7L468.5 548.3L469.0 549.4L469.5 550.1L470.0 549.7L470.5 547.7L471.0 547.1L471.5 548.0L472.0 548.2L472.5 547.5L473.0 547.7L473.5 548.0L474.0 547.5L474.5 547.9L475.0 548.4L475.5 548.1L476.0 548.0L476.5 547.3L477.0 546.3L477.5 546.6L478.0 547.1L478.5 547.2L479.0 547.5L479.5 547.7L480.0 547.5L480.5 547.0L481.0 546.2L481.5 545.6L482.0 544.9L482.5 544.6L483.0 543.8L483.5 542.0L484.0 540.7L484.5 539.5L485.0 539.2L485.5 539.6L486.0 539.9L486.5 540.4L487.0 540.4L487.5 541.1L488.0 542.6L488.5 544.1L489.0 545.2L489.5 546.3L490.0 547.9L490.5 549.2L491.0 549.6L491.5 549.6L492.0 549.6L492.5 549.3L493.0 549.0L493.5 549.6L494.0 550.0L494.5 550.0L495.0 550.8L495.5 550.8L496.0 550.2L496.5 550.7L497.0 551.5L497.5 551.6L498.0 551.8L498.5 552.8L499.0 552.3L499.5 550.6L500.0 550.1L500.5 549.4L501.0 548.5L501.5 549.2L502.0 549.8L502.5 549.2L503.0 549.0L503.5 549.7L504.0 549.4L504.5 549.1L505.0 549.5L505.5 548.6L506.0 547.0L506.5 546.4L507.0 546.7L507.5 547.4L508.0 547.8L508.5 547.4L509.0 545.9L509.5 544.9L510.0 544.7L510.5 543.2L511.0 540.5L511.5 538.6L512.0 537.4L512.5 535.7L513.0 533.0L513.5 530.9L514.0 530.0L514.5 529.3L515.0 531.1L515.5 534.6L516.0 536.7L516.5 538.2L517.0 541.0L517.5 543.7L518.0 544.5L518.5 545.3L519.0 546.3L519.5 546.1L520.0 546.2L520.5 546.6L521.0 547.0L521.5 547.7L522.0 547.9L522.5 547.7L523.0 548.6L523.5 549.6L524.0 549.4L524.5 549.5L525.0 549.3L525.5 548.8L526.0 549.0L526.5 549.8L527.0 551.0L527.5 552.3L528.0 552.1L528.5 550.8L529.0 550.2L529.5 549.6L530.0 550.0L530.5 552.1L531.0 552.2L531.5 551.1L532.0 552.6L532.5 554.5L533.0 554.2L533.5 553.6L534.0 553.2L534.5 552.4L535.0 552.0L535.5 552.4L536.0 553.0L536.5 553.3L537.0 554.1L537.5 554.6L538.0 554.1L538.5 553.3L539.0 552.1L539.5 552.0L540.0 553.4L540.5 553.5L541.0 552.6L541.5 551.0L542.0 550.4L542.5 550.6L543.0 549.7L543.5 549.5L544.0 550.0L544.5 550.4L545.0 550.9L545.5 549.9L546.0 548.8L546.5 548.8L547.0 548.6L547.5 548.9L548.0 548.7L548.5 548.0L549.0 547.9L549.5 548.0L550.0 548.9L550.5 550.0L551.0 550.1L551.5 549.9L552.0 550.2L552.5 550.9L553.0 551.3L553.5 550.5L554.0 549.3L554.5 549.1L555.0 549.1L555.5 549.4L556.0 550.1L556.5 550.8L557.0 551.0L557.5 550.8L558.0 550.5L558.5 550.1L559.0 549.3L559.5 548.8L560.0 549.6L560.5 551.7L561.0 552.7L561.5 551.9L562.0 551.6L562.5 551.7L563.0 551.6L563.5 552.7L564.0 552.9L564.5 551.8L565.0 551.7L565.5 552.8L566.0 553.6L566.5 554.4L567.0 555.0L567.5 555.1L568.0 555.5L568.5 556.3L569.0 556.8L569.5 556.7L570.0 555.7L570.5 554.4L571.0 554.1L571.5 555.0L572.0 555.6L572.5 556.3L573.0 557.3L573.5 556.9L574.0 556.3L574.5 555.8L575.0 555.6L575.5 556.6L576.0 557.3L576.5 556.6L577.0 555.8L577.5 555.8L578.0 556.4L578.5 556.3L579.0 555.6L579.5 556.2L580.0 556.6L580.5 555.3L581.0 555.1L581.5 555.8L582.0 555.9L582.5 555.8L583.0 555.8L583.5 555.2L584.0 553.6L584.5 552.5L585.0 553.0L585.5 553.3L586.0 553.1L586.5 553.2L587.0 553.3L587.5 552.7L588.0 552.5L588.5 552.1L589.0 550.8L589.5 549.8L590.0 548.4L590.5 547.3L591.0 546.4L591.5 543.7L592.0 541.0L592.5 539.8L593.0 538.7L593.5 537.0L594.0 535.3L594.5 533.8L595.0 533.6L595.5 536.1L596.0 538.2L596.5 538.0L597.0 538.9L597.5 541.6L598.0 541.9L598.5 541.4L599.0 543.1L599.5 544.7L600.0 546.4L600.5 548.9L601.0 549.4L601.5 548.6L602.0 549.2L602.5 549.6L603.0 549.2L603.5 549.2L604.0 549.6L604.5 550.1L605.0 550.0L605.5 549.9L606.0 550.8L606.5 551.6L607.0 551.7L607.5 550.9L608.0 550.3L608.5 550.7L609.0 551.2L609.5 550.9L610.0 551.3L610.5 552.3L611.0 552.2L611.5 551.9L612.0 551.9L612.5 552.1L613.0 552.1L613.5 551.0L614.0 550.7L614.5 551.7L615.0 552.3L615.5 552.9L616.0 553.9L616.5 554.7L617.0 554.1L617.5 553.1L618.0 552.4L618.5 551.5L619.0 551.6L619.5 551.9L620.0 551.2L620.5 549.8L621.0 549.9L621.5 551.5L622.0 551.8L622.5 551.1L623.0 550.7L623.5 550.1L624.0 550.0L624.5 550.0L625.0 549.5L625.5 548.7L626.0 547.1L626.5 545.7L627.0 546.0L627.5 546.3L628.0 546.2L628.5 546.7L629.0 548.0L629.5 549.6L630.0 550.8L630.5 550.9L631.0 550.6L631.5 551.6L632.0 552.6L632.5 552.4L633.0 551.8L633.5 552.0L634.0 552.7L634.5 553.1L635.0 553.1L635.5 553.4L636.0 553.8L636.5 552.7L637.0 551.6L637.5 552.2L638.0 553.2L638.5 553.3L639.0 552.4L639.5 551.9L640.0 552.1L640.5 551.6L641.0 551.5L641.5 553.3L642.0 554.1L642.5 553.0L643.0 552.7L643.5 553.2L644.0 553.7L644.5 554.3L645.0 554.5L645.5 554.4L646.0 553.6L646.5 552.9L647.0 552.9L647.5 553.6L648.0 555.1L648.5 555.8L649.0 555.5L649.5 554.4L650.0 553.9L650.5 554.5L651.0 554.9L651.5 556.2L652.0 556.9L652.5 555.8L653.0 555.3L653.5 554.8L654.0 553.4L654.5 553.0L655.0 553.6L655.5 554.5L656.0 554.9L656.5 554.9L657.0 554.7L657.5 553.5L658.0 552.7L658.5 553.2L659.0 553.1L659.5 552.8L660.0 553.2L660.5 552.5L661.0 552.1L661.5 552.2L662.0 551.8L662.5 552.1L663.0 552.0L663.5 551.1L664.0 549.8L664.5 548.1L665.0 546.8L665.5 546.2L666.0 545.2L666.5 542.9L667.0 540.4L667.5 538.6L668.0 536.2L668.5 533.4L669.0 533.1L669.5 534.0L670.0 534.2L670.5 535.8L671.0 538.3L671.5 540.7L672.0 542.9L672.5 544.5L673.0 546.9L673.5 549.4L674.0 549.3L674.5 548.1L675.0 548.1L675.5 549.0L676.0 549.6L676.5 549.9L677.0 551.4L677.5 553.1L678.0 552.7L678.5 551.3L679.0 551.0L679.5 551.1L680.0 551.7L680.5 552.5L681.0 551.7L681.5 551.2L682.0 552.1L682.5 553.1L683.0 554.0L683.5 553.9L684.0 552.2L684.5 551.3L685.0 552.7L685.5 554.1L686.0 553.8L686.5 552.0L687.0 552.1L687.5 554.2L688.0 555.2L688.5 554.6L689.0 554.1L689.5 553.9L690.0 552.9L690.5 552.3L691.0 553.0L691.5 553.8L692.0 554.5L692.5 554.0L693.0 552.9L693.5 553.5L694.0 553.8L694.5 553.0L695.0 553.3L695.5 554.0L696.0 554.0L696.5 553.4L697.0 553.0L697.5 553.3L698.0 554.0L698.5 554.0L699.0 554.0L699.5 554.6L700.0 554.1L700.5 554.0L701.0 555.3L701.5 555.8L702.0 555.0L702.5 554.6L703.0 555.0L703.5 554.2L704.0 553.4L704.5 554.9L705.0 556.1L705.5 555.6L706.0 555.8L706.5 556.4L707.0 555.7L707.5 555.1L708.0 555.4L708.5 555.5L709.0 555.3L709.5 555.6L710.0 555.7L710.5 555.5L711.0 555.9L711.5 555.8L712.0 555.1L712.5 555.0L713.0 555.1L713.5 554.9L714.0 554.5L714.5 554.2L715.0 554.8L715.5 555.6L716.0 555.1L716.5 554.5L717.0 554.9L717.5 554.8L718.0 554.2L718.5 554.4L719.0 554.2L719.5 554.0L720.0 554.1L720.5 553.3L721.0 552.5L721.5 553.0L722.0 553.2L722.5 553.6L723.0 554.1L723.5 553.6L724.0 553.3L724.5 553.6L725.0 553.5L725.5 552.8L726.0 552.8L726.5 553.9L727.0 554.4L727.5 553.9L728.0 553.4L728.5 552.7L729.0 552.7L729.5 552.4L730.0 551.9L730.5 552.1L731.0 551.6L731.5 550.7L732.0 551.6L732.5 552.6L733.0 552.6L733.5 552.1L734.0 551.2L734.5 551.1L735.0 551.3L735.5 551.1L736.0 551.7L736.5 552.2L737.0 551.5L737.5 551.8L738.0 552.8L738.5 551.8L739.0 551.0L739.5 551.5L740.0 551.9L740.5 551.2L741.0 550.7L741.5 551.4L742.0 552.7L742.5 553.5L743.0 552.8L743.5 551.8L744.0 552.1L744.5 552.4L745.0 552.0L745.5 552.3L746.0 553.0L746.5 553.0L747.0 552.2L747.5 551.7L748.0 551.4L748.5 551.4L749.0 552.2L749.5 552.5L750.0 553.0L750.5 553.0L751.0 552.4L751.5 552.8L752.0 553.3L752.5 553.1L753.0 552.3L753.5 552.3L754.0 553.3L754.5 553.2L755.0 552.3L755.5 552.3L756.0 553.0L756.5 552.8L757.0 552.2L757.5 552.1L758.0 552.7L758.5 553.1L759.0 552.9L759.5 552.5L760.0 552.9L760.5 554.2L761.0 554.3L761.5 552.9L762.0 552.3L762.5 552.3L763.0 552.0L763.5 552.7L764.0 553.3L764.5 553.7L765.0 554.8L765.5 555.0L766.0 553.9L766.5 553.4L767.0 554.1L767.5 553.9L768.0 552.5L768.5 552.2L769.0 552.3L769.5 551.7L770.0 552.5L770.5 553.6L771.0 553.3L771.5 553.2L772.0 553.4L772.5 553.8L773.0 554.2L773.5 553.5L774.0 552.7L774.5 552.8L775.0 553.2L775.5 553.7L776.0 553.9L776.5 553.4L777.0 553.0L777.5 553.0L778.0 552.9L778.5 552.5L779.0 552.2L779.5 551.9L780.0 552.2L780.5 552.6L781.0 552.5L781.5 553.3L782.0 552.9L782.5 551.0L783.0 550.7L783.5 551.4L784.0 551.7L784.5 552.3L785.0 553.0L785.5 552.7L786.0 552.1L786.5 552.4L787.0 552.8L787.5 552.8L788.0 553.7L788.5 553.7L789.0 552.4L789.5 552.4L790.0 552.8L790.5 552.0L791.0 552.1L791.5 552.1L792.0 551.4L792.5 551.5L793.0 551.5L793.5 551.6L794.0 552.2L794.5 552.5L795.0 553.0L795.5 552.2L796.0 551.0L796.5 550.8L797.0 550.9L797.5 551.6L798.0 551.3L798.5 550.2L799.0 550.4L799.5 551.0L800.0 550.7L800.5 550.5L801.0 551.5L801.5 551.4L802.0 550.5L802.5 550.3L803.0 549.6L803.5 549.4L804.0 549.7L804.5 549.8L805.0 549.8L805.5 549.5L806.0 550.3L806.5 551.3L807.0 551.4L807.5 551.4L808.0 550.5L808.5 549.7L809.0 550.8L809.5 551.2L810.0 550.3L810.5 549.5L811.0 548.9L811.5 548.7L812.0 549.2L812.5 549.6L813.0 549.4L813.5 548.8L814.0 548.0L814.5 548.1L815.0 548.9L815.5 549.3L816.0 549.2L816.5 549.2L817.0 549.4L817.5 549.3L818.0 549.7L818.5 550.3L819.0 549.7L819.5 549.3L820.0 550.1L820.5 550.8L821.0 550.1L821.5 549.5L822.0 550.1L822.5 550.3L823.0 550.1L823.5 550.3L824.0 550.6L824.5 551.1L825.0 551.3L825.5 550.8L826.0 550.4L826.5 550.6L827.0 550.8L827.5 551.0L828.0 551.0L828.5 550.7L829.0 550.6L829.5 551.1L830.0 550.9L830.5 550.0L831.0 550.1L831.5 550.1L832.0 549.4L832.5 549.7L833.0 550.8L833.5 551.6L834.0 551.4L834.5 550.3L835.0 549.5L835.5 550.0L836.0 550.9L836.5 550.5L837.0 551.0L837.5 552.6L838.0 552.3L838.5 551.7L839.0 552.4L839.5 551.8L840.0 550.7L840.5 551.2L841.0 551.9L841.5 551.1L842.0 550.7L842.5 551.3L843.0 550.8L843.5 551.1L844.0 552.4L844.5 552.1L845.0 551.3L845.5 551.2L846.0 552.1L846.5 552.4L847.0 551.8L847.5 551.6" fill="none" stroke="#fb2a2a" stroke-width="2.8" stroke-linejoin="round"/>
<path d="M48.0 500.7L48.5 499.2L49.0 499.3L49.5 499.6L50.0 499.4L50.5 498.9L51.0 498.2L51.5 498.5L52.0 499.9L52.5 501.3L53.0 500.2L53.5 498.5L54.0 497.9L54.5 497.2L55.0 496.6L55.5 496.7L56.0 496.8L56.5 496.5L57.0 496.3L57.5 495.7L58.0 495.9L58.5 496.7L59.0 496.5L59.5 496.1L60.0 496.7L60.5 498.4L61.0 499.4L61.5 498.9L62.0 499.1L62.5 499.8L63.0 499.5L63.5 500.0L64.0 501.2L64.5 501.5L65.0 501.4L65.5 500.7L66.0 500.0L66.5 500.9L67.0 500.8L67.5 500.5L68.0 501.8L68.5 502.5L69.0 501.8L69.5 501.4L70.0 502.0L70.5 502.9L71.0 503.7L71.5 503.6L72.0 503.4L72.5 503.4L73.0 502.6L73.5 502.1L74.0 502.9L74.5 503.1L75.0 502.3L75.5 502.0L76.0 501.5L76.5 501.0L77.0 502.0L77.5 502.1L78.0 501.0L78.5 500.8L79.0 500.8L79.5 500.2L80.0 498.6L80.5 498.1L81.0 498.8L81.5 497.5L82.0 494.9L82.5 494.2L83.0 494.5L83.5 494.8L84.0 495.4L84.5 495.6L85.0 496.3L85.5 497.7L86.0 499.4L86.5 499.9L87.0 499.4L87.5 500.0L88.0 501.9L88.5 502.7L89.0 502.7L89.5 502.8L90.0 502.1L90.5 501.1L91.0 500.7L91.5 501.4L92.0 501.9L92.5 501.0L93.0 500.8L93.5 501.4L94.0 502.0L94.5 501.8L95.0 500.5L95.5 500.1L96.0 501.5L96.5 502.7L97.0 502.6L97.5 501.8L98.0 501.4L98.5 501.4L99.0 501.5L99.5 501.4L100.0 500.8L100.5 500.6L101.0 500.8L101.5 500.7L102.0 501.1L102.5 501.7L103.0 501.1L103.5 498.5L104.0 494.9L104.5 491.3L105.0 484.9L105.5 471.1L106.0 449.4L106.5 425.2L107.0 409.0L107.1 407.0L107.5 414.7L108.0 439.4L108.5 464.1L109.0 482.0L109.5 491.8L110.0 495.8L110.5 497.8L111.0 499.6L111.5 500.9L112.0 501.6L112.5 501.2L113.0 500.4L113.5 500.1L114.0 500.9L114.5 502.1L115.0 502.0L115.5 501.0L116.0 500.8L116.5 500.9L117.0 500.2L117.5 500.1L118.0 501.5L118.5 502.3L119.0 500.9L119.5 499.4L120.0 498.8L120.5 499.0L121.0 500.2L121.5 500.7L122.0 500.3L122.5 500.1L123.0 500.1L123.5 499.4L124.0 498.7L124.5 499.0L125.0 499.5L125.5 499.2L126.0 499.0L126.5 499.0L127.0 499.6L127.5 500.0L128.0 499.5L128.5 499.2L129.0 499.3L129.5 499.0L130.0 497.1L130.5 494.4L131.0 493.1L131.5 492.2L131.9 492.1L132.0 492.9L132.5 494.1L133.0 495.4L133.5 497.0L134.0 498.5L134.5 499.0L135.0 499.6L135.5 500.4L136.0 501.1L136.5 502.4L137.0 503.1L137.5 502.9L138.0 501.8L138.5 501.1L139.0 501.7L139.5 501.9L140.0 501.6L140.5 501.8L141.0 502.5L141.5 502.7L142.0 502.4L142.5 502.3L143.0 501.7L143.5 501.1L144.0 501.0L144.5 501.3L145.0 502.4L145.5 503.2L146.0 503.2L146.5 503.6L147.0 504.0L147.5 503.4L148.0 502.7L148.5 501.9L149.0 501.7L149.5 501.9L150.0 501.8L150.5 502.2L151.0 502.8L151.5 502.8L152.0 502.0L152.5 501.3L153.0 501.4L153.5 501.1L154.0 500.9L154.5 501.0L155.0 500.7L155.5 500.2L156.0 499.8L156.5 499.3L157.0 498.7L157.5 498.9L158.0 499.6L158.5 500.8L159.0 500.6L159.5 499.1L160.0 499.3L160.5 499.5L161.0 499.3L161.5 499.8L162.0 499.2L162.5 498.5L163.0 499.1L163.5 499.8L164.0 499.5L164.5 499.3L165.0 500.2L165.5 500.3L166.0 499.2L166.5 499.1L167.0 499.5L167.5 500.1L168.0 501.0L168.5 500.4L169.0 499.1L169.5 499.1L170.0 500.4L170.5 501.4L171.0 500.7L171.5 500.2L172.0 500.3L172.5 500.9L173.0 501.3L173.5 500.6L174.0 500.3L174.5 500.5L175.0 500.0L175.5 499.9L176.0 500.6L176.5 500.4L177.0 499.5L177.5 499.0L178.0 499.2L178.5 500.2L179.0 500.9L179.5 501.0L180.0 501.0L180.5 500.5L181.0 500.1L181.5 500.3L182.0 500.1L182.5 499.7L183.0 500.1L183.5 500.3L184.0 499.4L184.5 498.9L185.0 499.6L185.5 499.8L186.0 498.4L186.5 497.3L187.0 497.1L187.5 496.1L188.0 494.0L188.5 492.9L189.0 491.3L189.5 488.0L190.0 484.9L190.5 480.6L191.0 475.3L191.5 470.5L192.0 466.5L192.5 465.5L193.0 466.6L193.5 468.2L194.0 471.3L194.5 474.1L195.0 476.3L195.5 476.9L196.0 476.5L196.5 477.3L197.0 477.9L197.5 477.3L198.0 478.2L198.5 480.6L199.0 482.4L199.5 484.3L200.0 487.7L200.5 490.9L201.0 493.0L201.5 495.3L202.0 496.9L202.5 496.6L203.0 495.9L203.5 496.4L204.0 497.8L204.5 498.9L205.0 499.1L205.5 499.0L206.0 498.8L206.5 498.8L207.0 498.7L207.5 498.3L208.0 497.8L208.5 497.7L209.0 498.3L209.5 498.4L210.0 499.0L210.5 500.0L211.0 501.1L211.5 502.4L212.0 501.6L212.5 500.5L213.0 500.9L213.5 500.9L214.0 500.8L214.5 501.1L215.0 499.8L215.5 499.0L216.0 500.5L216.5 501.7L217.0 502.0L217.5 501.2L218.0 501.1L218.5 501.9L219.0 501.6L219.5 502.0L220.0 502.9L220.5 502.4L221.0 501.9L221.5 502.2L222.0 502.2L222.5 501.8L223.0 502.2L223.5 503.3L224.0 503.5L224.5 502.1L225.0 501.3L225.5 501.9L226.0 501.9L226.5 501.9L227.0 502.3L227.5 502.3L228.0 501.6L228.5 500.5L229.0 499.6L229.5 500.7L230.0 502.1L230.5 501.4L231.0 500.5L231.5 500.7L232.0 501.6L232.5 501.4L233.0 501.0L233.5 501.6L234.0 502.1L234.5 501.8L235.0 501.8L235.5 502.5L236.0 502.2L236.5 501.2L237.0 500.8L237.5 501.2L238.0 501.7L238.5 501.7L239.0 502.1L239.5 502.4L240.0 502.6L240.5 502.1L241.0 500.7L241.5 499.9L242.0 500.9L242.5 501.7L243.0 501.6L243.5 501.3L244.0 500.7L244.5 500.2L245.0 500.6L245.5 501.5L246.0 501.2L246.5 500.0L247.0 499.6L247.5 500.6L248.0 501.6L248.5 501.0L249.0 500.6L249.5 501.5L250.0 502.0L250.5 501.6L251.0 501.4L251.5 501.3L252.0 501.0L252.5 500.3L253.0 500.0L253.5 500.6L254.0 501.0L254.5 500.3L255.0 499.1L255.5 499.6L256.0 500.2L256.5 499.7L257.0 499.9L257.5 500.3L258.0 500.0L258.5 499.4L259.0 499.8L259.5 501.0L260.0 501.4L260.5 500.9L261.0 500.8L261.5 501.4L262.0 501.6L262.5 500.7L263.0 500.6L263.5 501.3L264.0 501.5L264.5 501.9L265.0 502.9L265.5 503.0L266.0 502.9L266.5 502.9L267.0 502.7L267.5 502.7L268.0 502.2L268.5 502.4L269.0 503.5L269.5 503.3L270.0 502.8L270.5 503.1L271.0 503.6L271.5 503.6L272.0 503.7L272.5 503.7L273.0 502.9L273.5 502.2L274.0 502.6L274.5 503.3L275.0 503.4L275.5 502.4L276.0 500.7L276.5 499.5L277.0 498.5L277.5 497.0L278.0 496.1L278.5 494.9L279.0 493.5L279.5 493.5L280.0 495.0L280.5 497.7L281.0 499.3L281.5 499.1L282.0 498.7L282.5 499.1L283.0 500.7L283.5 501.7L284.0 502.0L284.5 502.4L285.0 502.2L285.5 502.6L286.0 502.9L286.5 502.9L287.0 504.0L287.5 504.0L288.0 502.5L288.5 502.4L289.0 503.5L289.5 503.4L290.0 502.7L290.5 502.9L291.0 503.3L291.5 503.7L292.0 504.1L292.5 504.5L293.0 505.1L293.5 505.0L294.0 504.5L294.5 504.5L295.0 504.5L295.5 503.4L296.0 502.5L296.5 502.9L297.0 503.5L297.5 503.6L298.0 503.1L298.5 502.7L299.0 503.1L299.5 503.3L300.0 502.5L300.5 501.8L301.0 501.7L301.5 501.5L302.0 501.5L302.5 501.6L303.0 502.3L303.5 502.7L304.0 501.8L304.5 501.3L305.0 501.6L305.5 501.6L306.0 500.9L306.5 500.9L307.0 501.9L307.5 502.4L308.0 502.2L308.5 501.7L309.0 501.9L309.5 503.1L310.0 503.9L310.5 503.5L311.0 503.2L311.5 502.8L312.0 502.2L312.5 502.1L313.0 502.5L313.5 502.7L314.0 502.2L314.5 502.0L315.0 503.3L315.5 503.7L316.0 502.6L316.5 502.2L317.0 502.4L317.5 501.8L318.0 501.4L318.5 501.9L319.0 502.0L319.5 501.9L320.0 501.4L320.5 500.7L321.0 500.9L321.5 501.0L322.0 500.2L322.5 499.9L323.0 499.5L323.5 499.6L324.0 500.9L324.5 501.2L325.0 500.9L325.5 500.8L326.0 500.1L326.5 500.6L327.0 501.9L327.5 500.9L328.0 498.2L328.5 497.2L329.0 499.1L329.5 500.8L330.0 500.6L330.5 500.6L331.0 500.8L331.5 500.4L332.0 500.9L332.5 501.5L333.0 501.5L333.5 501.0L334.0 500.6L334.5 500.6L335.0 500.9L335.5 502.0L336.0 502.2L336.5 499.6L337.0 497.8L337.5 498.4L338.0 499.2L338.5 499.4L339.0 498.3L339.5 496.2L340.0 495.4L340.5 495.2L341.0 494.2L341.5 493.8L342.0 493.6L342.5 493.8L343.0 494.4L343.5 495.0L344.0 495.1L344.5 495.1L345.0 496.0L345.5 497.0L346.0 498.0L346.5 498.7L347.0 498.2L347.5 497.6L348.0 497.8L348.5 498.6L349.0 499.0L349.5 499.0L350.0 499.6L350.5 499.5L351.0 498.5L351.5 498.1L352.0 498.9L352.5 498.9L353.0 498.4L353.5 499.7L354.0 500.5L354.5 499.8L355.0 500.1L355.5 501.0L356.0 500.1L356.5 498.6L357.0 498.4L357.5 498.6L358.0 497.8L358.5 497.4L359.0 498.2L359.5 498.6L360.0 498.6L360.5 499.0L361.0 499.1L361.5 498.4L362.0 498.0L362.5 498.7L363.0 498.9L363.5 498.2L364.0 497.8L364.5 496.8L365.0 496.0L365.5 495.9L366.0 495.3L366.5 495.3L367.0 495.6L367.5 495.7L368.0 495.7L368.5 496.7L369.0 498.4L369.5 499.0L370.0 498.8L370.5 499.0L371.0 499.0L371.5 498.2L372.0 498.1L372.5 498.5L373.0 498.3L373.5 498.3L374.0 498.5L374.5 498.5L375.0 498.8L375.5 499.6L376.0 499.6L376.5 498.9L377.0 497.7L377.5 496.4L378.0 495.7L378.5 495.2L379.0 494.6L379.5 495.1L380.0 496.4L380.5 496.8L381.0 495.4L381.5 493.7L382.0 492.7L382.5 491.9L383.0 491.0L383.5 489.9L384.0 489.4L384.5 488.8L385.0 487.3L385.5 485.7L386.0 483.8L386.5 483.0L387.0 484.4L387.5 485.2L388.0 485.2L388.5 485.6L389.0 486.5L389.5 488.4L390.0 490.3L390.5 490.7L391.0 490.5L391.5 491.0L392.0 492.4L392.5 493.6L393.0 493.7L393.5 493.0L394.0 493.0L394.5 494.0L395.0 493.8L395.5 493.5L396.0 493.1L396.5 492.2L397.0 492.7L397.5 493.6L398.0 494.3L398.5 494.8L399.0 493.9L399.5 492.5L400.0 493.0L400.5 493.8L401.0 493.5L401.5 492.4L402.0 492.3L402.5 493.6L403.0 494.0L403.5 493.0L404.0 492.8L404.5 492.9L405.0 491.6L405.5 492.4L406.0 493.9L406.5 493.2L407.0 491.9L407.5 491.7L408.0 491.6L408.5 490.7L409.0 490.2L409.5 489.6L410.0 488.5L410.5 487.6L411.0 485.6L411.5 484.1L412.0 483.0L412.5 481.4L413.0 480.0L413.5 478.1L414.0 475.4L414.5 473.1L415.0 471.8L415.5 471.6L416.0 472.0L416.5 472.5L417.0 473.6L417.5 474.8L418.0 476.4L418.5 478.3L419.0 479.6L419.5 481.5L420.0 483.2L420.5 483.2L421.0 483.1L421.5 483.1L422.0 483.1L422.5 483.2L423.0 483.5L423.5 484.0L424.0 485.0L424.5 486.2L425.0 486.4L425.5 486.7L426.0 487.0L426.5 487.2L427.0 487.2L427.5 487.8L428.0 490.0L428.5 492.0L429.0 492.0L429.5 492.3L430.0 493.3L430.5 493.1L431.0 492.6L431.5 492.6L432.0 493.2L432.5 494.9L433.0 496.2L433.5 495.3L434.0 494.3L434.5 494.5L435.0 494.4L435.5 494.0L436.0 494.8L436.5 495.5L437.0 495.4L437.5 494.6L438.0 493.0L438.5 492.9L439.0 494.5L439.5 494.3L440.0 492.9L440.5 493.0L441.0 493.6L441.5 493.7L442.0 493.4L442.5 493.0L443.0 493.2L443.5 493.3L444.0 492.6L444.5 490.9L445.0 490.2L445.5 491.0L446.0 491.7L446.5 492.7L447.0 493.4L447.5 492.8L448.0 492.2L448.5 492.4L449.0 492.5L449.5 491.8L450.0 492.0L450.5 492.0L451.0 491.7L451.5 491.3L452.0 490.6L452.5 490.0L453.0 489.1L453.5 488.2L454.0 488.3L454.5 488.4L455.0 488.1L455.5 487.6L456.0 487.6L456.5 488.7L457.0 489.2L457.5 488.6L458.0 488.4L458.5 488.5L459.0 488.3L459.5 486.7L460.0 485.7L460.5 486.5L461.0 486.0L461.5 484.8L462.0 484.2L462.5 484.0L463.0 484.2L463.5 484.8L464.0 485.8L464.5 485.2L465.0 483.3L465.5 482.7L466.0 482.8L466.5 482.7L467.0 483.3L467.5 483.6L468.0 483.0L468.5 483.1L469.0 484.0L469.5 484.9L470.0 484.6L470.5 483.7L471.0 483.0L471.5 482.5L472.0 482.0L472.5 481.9L473.0 481.7L473.5 480.8L474.0 480.4L474.5 481.1L475.0 480.9L475.5 479.8L476.0 479.7L476.5 480.2L477.0 479.9L477.5 479.2L478.0 479.0L478.5 479.3L479.0 479.6L479.5 478.4L480.0 476.0L480.5 474.9L481.0 475.8L481.5 476.0L482.0 474.9L482.5 473.5L483.0 471.4L483.5 469.8L484.0 469.6L484.5 469.1L485.0 467.9L485.5 467.0L486.0 467.3L486.5 468.5L487.0 469.8L487.5 470.7L488.0 471.7L488.5 473.8L489.0 476.1L489.5 477.0L490.0 477.2L490.5 477.9L491.0 479.6L491.5 481.0L492.0 480.7L492.5 481.3L493.0 483.3L493.5 484.2L494.0 484.1L494.5 484.6L495.0 485.3L495.5 485.3L496.0 485.5L496.5 486.0L497.0 486.1L497.5 485.8L498.0 485.2L498.5 485.0L499.0 484.1L499.5 483.8L500.0 484.5L500.5 484.5L501.0 484.2L501.5 484.3L502.0 484.8L502.5 484.0L503.0 482.8L503.5 483.2L504.0 483.2L504.5 482.4L505.0 482.8L505.5 483.5L506.0 482.5L506.5 480.9L507.0 480.1L507.5 479.3L508.0 476.9L508.5 474.9L509.0 474.4L509.5 474.0L510.0 472.6L510.5 468.8L511.0 463.4L511.5 458.9L512.0 454.6L512.5 449.8L513.0 446.1L513.5 444.9L514.0 446.0L514.5 449.1L515.0 454.0L515.5 459.9L516.0 464.3L516.5 467.9L517.0 472.5L517.5 475.6L518.0 477.1L518.5 478.1L519.0 479.3L519.5 480.4L520.0 481.2L520.5 482.1L521.0 482.0L521.5 481.4L522.0 482.0L522.5 483.1L523.0 483.2L523.5 482.7L524.0 482.6L524.5 482.5L525.0 482.0L525.5 482.6L526.0 483.9L526.5 483.8L527.0 483.3L527.5 483.7L528.0 485.0L528.5 485.4L529.0 484.5L529.5 483.9L530.0 484.2L530.5 485.1L531.0 484.8L531.5 484.0L532.0 484.5L532.5 484.6L533.0 484.3L533.5 483.9L534.0 483.1L534.5 483.2L535.0 483.8L535.5 483.4L536.0 483.5L536.5 484.4L537.0 483.7L537.5 482.6L538.0 482.8L538.5 483.7L539.0 484.1L539.5 483.8L540.0 483.2L540.5 482.1L541.0 482.0L541.5 482.4L542.0 482.8L542.5 482.5L543.0 482.6L543.5 483.9L544.0 483.4L544.5 483.1L545.0 483.8L545.5 483.9L546.0 482.4L546.5 480.8L547.0 481.6L547.5 483.0L548.0 482.5L548.5 481.5L549.0 481.8L549.5 483.6L550.0 483.9L550.5 483.1L551.0 483.2L551.5 483.2L552.0 482.9L552.5 483.4L553.0 484.2L553.5 484.9L554.0 485.2L554.5 484.6L555.0 484.2L555.5 484.5L556.0 484.0L556.5 484.3L557.0 485.4L557.5 485.6L558.0 485.8L558.5 486.0L559.0 485.9L559.5 486.7L560.0 487.3L560.5 487.4L561.0 487.4L561.5 486.6L562.0 486.2L562.5 487.0L563.0 488.1L563.5 489.1L564.0 489.1L564.5 488.7L565.0 489.3L565.5 490.2L566.0 490.2L566.5 489.5L567.0 488.9L567.5 488.3L568.0 488.2L568.5 488.3L569.0 488.0L569.5 487.4L570.0 486.3L570.5 485.3L571.0 485.4L571.5 486.8L572.0 488.4L572.5 488.2L573.0 486.5L573.5 486.2L574.0 487.6L574.5 487.6L575.0 487.2L575.5 487.9L576.0 488.6L576.5 488.7L577.0 488.6L577.5 488.3L578.0 487.5L578.5 486.5L579.0 486.2L579.5 486.4L580.0 486.4L580.5 485.2L581.0 484.6L581.5 485.7L582.0 486.5L582.5 486.4L583.0 485.0L583.5 482.9L584.0 482.2L584.5 482.2L585.0 481.3L585.5 480.1L586.0 480.1L586.5 479.6L587.0 478.1L587.5 477.3L588.0 476.5L588.5 474.6L589.0 472.9L589.5 470.8L590.0 468.2L590.5 465.5L591.0 463.6L591.5 462.3L592.0 460.7L592.5 460.2L593.0 461.2L593.5 462.2L594.0 464.4L594.5 466.7L595.0 468.3L595.5 470.1L596.0 472.4L596.5 473.4L597.0 473.3L597.5 474.7L598.0 477.2L598.5 477.3L599.0 476.2L599.5 476.7L600.0 477.9L600.5 478.4L601.0 479.1L601.5 479.6L602.0 479.3L602.5 479.0L603.0 480.2L603.5 480.9L604.0 480.3L604.5 480.8L605.0 481.4L605.5 480.9L606.0 480.1L606.5 479.5L607.0 480.0L607.5 481.6L608.0 482.6L608.5 483.0L609.0 483.2L609.5 482.9L610.0 482.1L610.5 481.9L611.0 483.0L611.5 483.9L612.0 483.5L612.5 482.9L613.0 483.0L613.5 483.4L614.0 484.0L614.5 484.3L615.0 484.8L615.5 485.5L616.0 486.1L616.5 486.1L617.0 484.5L617.5 484.0L618.0 485.9L618.5 487.2L619.0 486.8L619.5 486.0L620.0 485.4L620.5 484.4L621.0 483.1L621.5 482.9L622.0 482.9L622.5 482.6L623.0 481.9L623.5 479.8L624.0 478.8L624.5 478.6L625.0 476.7L625.5 474.7L626.0 473.9L626.5 474.6L627.0 475.9L627.5 476.3L628.0 476.4L628.5 477.1L629.0 478.6L629.5 479.3L630.0 479.6L630.5 480.9L631.0 482.7L631.5 484.0L632.0 484.4L632.5 485.5L633.0 486.2L633.5 485.1L634.0 484.9L634.5 486.4L635.0 486.8L635.5 486.6L636.0 486.6L636.5 486.7L637.0 486.9L637.5 487.1L638.0 487.1L638.5 486.4L639.0 486.4L639.5 487.1L640.0 487.5L640.5 488.0L641.0 487.9L641.5 487.8L642.0 488.1L642.5 487.7L643.0 487.2L643.5 487.5L644.0 488.2L644.5 488.9L645.0 489.9L645.5 490.7L646.0 491.4L646.5 492.1L647.0 491.8L647.5 491.4L648.0 492.1L648.5 492.0L649.0 491.1L649.5 491.4L650.0 491.9L650.5 491.9L651.0 492.0L651.5 492.0L652.0 491.7L652.5 491.4L653.0 491.3L653.5 491.4L654.0 491.1L654.5 490.6L655.0 491.5L655.5 492.5L656.0 492.2L656.5 491.7L657.0 491.4L657.5 490.6L658.0 490.2L658.5 490.5L659.0 491.1L659.5 491.1L660.0 490.7L660.5 490.2L661.0 489.1L661.5 488.5L662.0 489.1L662.5 488.8L663.0 486.4L663.5 484.3L664.0 483.6L664.5 481.6L665.0 478.2L665.5 475.0L666.0 472.2L666.5 469.6L667.0 466.2L667.5 463.5L668.0 462.8L668.5 461.9L669.0 462.3L669.5 464.9L670.0 468.7L670.5 473.0L671.0 475.9L671.5 477.7L672.0 480.0L672.5 482.5L673.0 484.9L673.5 486.9L674.0 488.4L674.5 489.9L675.0 490.2L675.5 490.6L676.0 490.7L676.5 489.9L677.0 490.4L677.5 491.9L678.0 492.3L678.5 492.4L679.0 492.6L679.5 492.4L680.0 492.2L680.5 491.6L681.0 492.1L681.5 493.6L682.0 493.4L682.5 493.7L683.0 495.3L683.5 495.5L684.0 494.5L684.5 494.3L685.0 494.5L685.5 494.7L686.0 495.5L686.5 495.9L687.0 496.2L687.5 496.7L688.0 497.5L688.5 498.3L689.0 497.5L689.5 496.3L690.0 496.4L690.5 496.0L691.0 495.9L691.5 496.9L692.0 496.9L692.5 497.3L693.0 497.9L693.5 497.2L694.0 497.0L694.5 498.1L695.0 499.0L695.5 498.2L696.0 496.9L696.5 497.1L697.0 498.5L697.5 499.8L698.0 499.8L698.5 499.6L699.0 499.4L699.5 498.8L700.0 498.9L700.5 498.8L701.0 498.2L701.5 498.6L702.0 498.8L702.5 498.6L703.0 499.4L703.5 500.2L704.0 499.8L704.5 499.0L705.0 499.5L705.5 500.6L706.0 500.1L706.5 499.2L707.0 499.9L707.5 500.6L708.0 500.2L708.5 500.8L709.0 501.6L709.5 500.6L710.0 499.5L710.5 499.0L711.0 499.7L711.5 500.8L712.0 500.2L712.5 499.0L713.0 499.2L713.5 500.3L714.0 500.7L714.5 500.5L715.0 500.6L715.5 500.6L716.0 500.9L716.5 501.3L717.0 501.1L717.5 500.6L718.0 500.7L718.5 500.6L719.0 500.2L719.5 500.7L720.0 501.6L720.5 501.7L721.0 501.1L721.5 500.7L722.0 500.6L722.5 500.3L723.0 500.6L723.5 501.1L724.0 500.8L724.5 500.1L725.0 499.6L725.5 499.6L726.0 500.5L726.5 500.8L727.0 500.4L727.5 500.1L728.0 500.6L728.5 501.4L729.0 501.2L729.5 500.5L730.0 500.9L730.5 500.7L731.0 500.4L731.5 500.8L732.0 500.7L732.5 500.3L733.0 500.3L733.5 500.8L734.0 500.9L734.5 500.4L735.0 499.9L735.5 500.3L736.0 501.4L736.5 501.8L737.0 501.7L737.5 501.8L738.0 500.9L738.5 500.3L739.0 500.6L739.5 500.5L740.0 501.1L740.5 501.6L741.0 501.0L741.5 501.5L742.0 502.5L742.5 501.9L743.0 501.4L743.5 501.4L744.0 501.0L744.5 500.9L745.0 500.3L745.5 499.8L746.0 500.6L746.5 500.2L747.0 499.9L747.5 500.9L748.0 500.6L748.5 500.1L749.0 500.2L749.5 500.0L750.0 499.6L750.5 499.5L751.0 500.1L751.5 501.1L752.0 501.4L752.5 501.7L753.0 501.9L753.5 501.3L754.0 500.8L754.5 501.5L755.0 502.5L755.5 502.2L756.0 501.7L756.5 501.7L757.0 501.9L757.5 502.1L758.0 501.9L758.5 501.5L759.0 501.0L759.5 501.3L760.0 502.3L760.5 503.0L761.0 503.0L761.5 502.3L762.0 501.9L762.5 502.7L763.0 502.5L763.5 501.9L764.0 502.7L764.5 503.8L765.0 503.6L765.5 502.0L766.0 501.8L766.5 502.3L767.0 501.7L767.5 501.4L768.0 501.6L768.5 501.3L769.0 501.4L769.5 502.7L770.0 503.9L770.5 504.0L771.0 503.6L771.5 503.7L772.0 504.3L772.5 504.5L773.0 503.7L773.5 502.8L774.0 502.7L774.5 502.8L775.0 503.2L775.5 503.2L776.0 502.7L776.5 503.4L777.0 504.3L777.5 504.2L778.0 503.5L778.5 502.6L779.0 502.1L779.5 502.2L780.0 503.3L780.5 504.1L781.0 503.8L781.5 502.9L782.0 502.5L782.5 502.9L783.0 502.4L783.5 501.1L784.0 501.1L784.5 501.9L785.0 502.8L785.5 503.7L786.0 503.1L786.5 502.0L787.0 502.7L787.5 503.4L788.0 502.9L788.5 503.1L789.0 503.7L789.5 503.9L790.0 503.3L790.5 502.6L791.0 502.7L791.5 502.9L792.0 502.9L792.5 503.2L793.0 503.4L793.5 502.8L794.0 502.0L794.5 501.6L795.0 501.7L795.5 501.8L796.0 502.1L796.5 502.0L797.0 501.1L797.5 501.0L798.0 501.7L798.5 501.2L799.0 501.0L799.5 501.9L800.0 501.0L800.5 499.3L801.0 500.0L801.5 501.4L802.0 501.3L802.5 501.0L803.0 501.1L803.5 500.3L804.0 500.0L804.5 500.3L805.0 500.5L805.5 501.0L806.0 501.0L806.5 500.8L807.0 500.6L807.5 499.8L808.0 500.0L808.5 500.9L809.0 500.8L809.5 500.4L810.0 499.7L810.5 499.4L811.0 499.6L811.5 499.7L812.0 499.6L812.5 499.9L813.0 500.6L813.5 500.9L814.0 500.5L814.5 500.6L815.0 500.3L815.5 498.9L816.0 499.0L816.5 500.9L817.0 501.4L817.5 500.5L818.0 499.9L818.5 499.0L819.0 498.8L819.5 499.2L820.0 499.4L820.5 499.9L821.0 500.0L821.5 500.7L822.0 502.1L822.5 501.9L823.0 500.9L823.5 500.4L824.0 499.6L824.5 499.5L825.0 500.7L825.5 501.0L826.0 500.5L826.5 500.4L827.0 500.1L827.5 499.4L828.0 500.3L828.5 501.2L829.0 500.9L829.5 500.9L830.0 500.8L830.5 500.5L831.0 501.4L831.5 502.3L832.0 502.4L832.5 501.7L833.0 500.4L833.5 499.6L834.0 499.4L834.5 499.3L835.0 500.0L835.5 501.4L836.0 501.6L836.5 500.9L837.0 500.5L837.5 499.9L838.0 499.6L838.5 499.3L839.0 499.2L839.5 500.1L840.0 500.6L840.5 500.2L841.0 499.9L841.5 499.8L842.0 500.1L842.5 500.4L843.0 500.3L843.5 500.1L844.0 500.7L844.5 501.6L845.0 502.2L845.5 502.0L846.0 501.1L846.5 499.8L847.0 499.4L847.5 500.2" fill="none" stroke="#0c5ade" stroke-width="2.8" stroke-linejoin="round"/>
<path d="M48.0 401.2L48.5 400.8L49.0 399.9L49.5 400.0L50.0 401.9L50.5 402.4L51.0 401.5L51.5 401.6L52.0 401.3L52.5 401.1L53.0 401.4L53.5 401.0L54.0 400.3L54.5 400.4L55.0 400.9L55.5 401.1L56.0 400.9L56.5 400.6L57.0 400.3L57.5 400.4L58.0 401.0L58.5 401.2L59.0 401.0L59.5 400.6L60.0 400.3L60.5 401.4L61.0 401.6L61.5 399.5L62.0 398.2L62.5 399.1L63.0 400.5L63.5 401.1L64.0 401.3L64.5 401.2L65.0 400.7L65.5 400.4L66.0 400.5L66.5 400.3L67.0 399.5L67.5 399.5L68.0 400.7L68.5 401.1L69.0 399.8L69.5 398.8L70.0 399.6L70.5 400.4L71.0 400.6L71.5 400.2L72.0 399.5L72.5 400.4L73.0 400.6L73.5 399.4L74.0 400.0L74.5 400.9L75.0 400.8L75.5 401.5L76.0 402.0L76.5 400.9L77.0 399.6L77.5 399.6L78.0 400.1L78.5 400.0L79.0 399.8L79.5 400.1L80.0 400.1L80.5 399.0L81.0 397.8L81.5 398.3L82.0 400.1L82.5 401.0L83.0 401.1L83.5 400.3L84.0 399.7L84.5 400.1L85.0 399.7L85.5 398.9L86.0 399.6L86.5 401.1L87.0 401.0L87.5 400.3L88.0 399.8L88.5 399.8L89.0 400.4L89.5 400.0L90.0 399.4L90.5 399.3L91.0 399.4L91.5 400.2L92.0 400.5L92.5 400.2L93.0 400.4L93.5 400.0L94.0 399.5L94.5 399.2L95.0 399.4L95.5 399.5L96.0 399.2L96.5 398.8L97.0 398.6L97.5 398.1L98.0 397.9L98.5 398.6L99.0 399.5L99.5 399.8L100.0 400.2L100.5 400.3L101.0 398.8L101.5 397.9L102.0 397.6L102.5 396.3L103.0 394.8L103.5 392.8L104.0 388.7L104.5 381.3L105.0 367.4L105.5 342.0L106.0 308.0L106.5 281.9L106.7 278.8L107.0 284.4L107.5 314.5L108.0 347.5L108.5 371.1L109.0 384.5L109.5 390.5L110.0 392.6L110.5 393.8L111.0 394.6L111.5 395.0L112.0 395.9L112.5 397.1L113.0 398.2L113.5 398.2L114.0 397.4L114.5 397.0L115.0 397.2L115.5 397.1L116.0 395.9L116.5 394.0L117.0 392.3L117.5 391.6L118.0 392.1L118.5 392.9L119.0 393.5L119.5 394.3L120.0 395.7L120.5 397.1L121.0 398.2L121.5 398.7L122.0 398.4L122.5 397.9L123.0 398.0L123.5 397.9L124.0 397.9L124.5 398.3L125.0 398.5L125.5 398.9L126.0 399.4L126.5 399.2L127.0 398.1L127.5 397.1L128.0 397.1L128.5 396.9L129.0 396.4L129.5 396.9L130.0 396.6L130.5 396.0L131.0 396.0L131.5 395.5L132.0 394.4L132.5 394.1L133.0 395.1L133.5 395.8L134.0 396.3L134.5 397.6L135.0 397.5L135.5 396.6L136.0 396.9L136.5 397.6L137.0 398.7L137.5 398.7L138.0 397.4L138.5 397.2L139.0 397.9L139.5 398.6L140.0 399.4L140.5 399.1L141.0 398.4L141.5 397.7L142.0 397.0L142.5 397.9L143.0 398.6L143.5 397.9L144.0 397.6L144.5 398.7L145.0 399.4L145.5 398.2L146.0 397.4L146.5 397.5L147.0 396.7L147.5 396.6L148.0 396.8L148.5 396.5L149.0 396.1L149.5 396.2L150.0 395.1L150.5 392.9L151.0 392.4L151.5 394.0L152.0 395.5L152.5 395.6L153.0 395.6L153.5 396.1L154.0 397.0L154.5 397.4L155.0 397.1L155.5 397.1L156.0 398.4L156.5 398.5L157.0 398.1L157.5 399.1L158.0 398.9L158.5 397.1L159.0 396.7L159.5 397.9L160.0 398.3L160.5 397.1L161.0 397.0L161.5 398.0L162.0 397.8L162.5 398.5L163.0 400.5L163.5 400.8L164.0 399.3L164.5 398.3L165.0 397.6L165.5 396.8L166.0 397.2L166.5 397.2L167.0 396.5L167.5 396.8L168.0 398.0L168.5 398.5L169.0 398.6L169.5 398.5L170.0 397.5L170.5 396.5L171.0 396.5L171.5 397.6L172.0 398.5L172.5 398.6L173.0 398.2L173.5 397.5L174.0 397.2L174.5 397.1L175.0 397.7L175.5 399.3L176.0 399.1L176.5 397.7L177.0 397.4L177.5 397.4L178.0 397.3L178.5 397.5L179.0 397.2L179.5 397.0L180.0 397.0L180.5 396.9L181.0 396.3L181.5 396.0L182.0 396.4L182.5 396.8L183.0 397.2L183.5 398.0L184.0 398.7L184.5 398.2L185.0 397.3L185.5 396.9L186.0 396.6L186.5 396.7L187.0 395.4L187.5 393.1L188.0 391.7L188.5 387.6L189.0 380.4L189.5 373.0L190.0 364.3L190.5 354.8L191.0 349.4L191.2 349.7L191.5 351.9L192.0 359.6L192.5 369.2L193.0 377.4L193.5 384.2L194.0 389.2L194.5 391.8L195.0 392.8L195.5 393.4L196.0 395.2L196.5 397.4L197.0 398.5L197.5 398.4L198.0 397.8L198.5 397.9L199.0 399.2L199.5 399.4L200.0 398.4L200.5 397.9L201.0 398.4L201.5 399.6L202.0 399.7L202.5 399.3L203.0 399.6L203.5 399.7L204.0 399.0L204.5 398.3L205.0 397.9L205.5 398.5L206.0 400.6L206.5 401.3L207.0 400.0L207.5 400.1L208.0 400.5L208.5 400.1L209.0 400.1L209.5 400.4L210.0 401.0L210.5 400.8L211.0 400.8L211.5 401.0L212.0 400.0L212.5 399.1L213.0 399.8L213.5 400.7L214.0 400.6L214.5 400.0L215.0 399.5L215.5 400.0L216.0 400.5L216.5 400.7L217.0 401.0L217.5 399.8L218.0 398.2L218.5 398.4L219.0 399.5L219.5 399.9L220.0 399.9L220.5 400.2L221.0 400.6L221.5 400.0L222.0 398.9L222.5 399.0L223.0 398.8L223.5 398.4L224.0 399.2L224.5 399.8L225.0 399.0L225.5 398.2L226.0 397.6L226.5 397.1L227.0 397.1L227.5 397.2L228.0 397.1L228.5 397.1L229.0 397.7L229.5 397.7L230.0 397.0L230.5 396.6L231.0 395.3L231.5 394.9L232.0 396.2L232.5 397.1L233.0 396.8L233.5 396.0L234.0 396.5L234.5 397.5L235.0 397.9L235.5 397.6L236.0 397.1L236.5 396.5L237.0 396.5L237.5 397.0L238.0 397.1L238.5 396.4L239.0 396.4L239.5 397.9L240.0 398.7L240.5 398.2L241.0 397.4L241.5 397.4L242.0 398.0L242.5 398.6L243.0 398.7L243.5 397.8L244.0 396.6L244.5 396.3L245.0 396.0L245.5 396.6L246.0 398.1L246.5 397.9L247.0 397.5L247.5 398.3L248.0 397.9L248.5 397.1L249.0 397.5L249.5 397.4L250.0 396.4L250.5 396.1L251.0 397.2L251.5 397.1L252.0 396.3L252.5 397.5L253.0 398.3L253.5 397.8L254.0 397.7L254.5 397.5L255.0 397.2L255.5 397.9L256.0 398.3L256.5 397.6L257.0 397.8L257.5 398.1L258.0 397.6L258.5 397.2L259.0 396.9L259.5 397.2L260.0 398.1L260.5 398.3L261.0 398.9L261.5 400.0L262.0 399.1L262.5 398.3L263.0 398.3L263.5 398.6L264.0 399.1L264.5 399.1L265.0 399.6L265.5 399.4L266.0 398.5L266.5 398.4L267.0 399.0L267.5 399.4L268.0 398.0L268.5 395.8L269.0 394.6L269.5 394.4L270.0 394.2L270.5 393.3L271.0 392.4L271.5 392.1L272.0 392.7L272.5 392.6L273.0 391.6L273.5 391.6L274.0 392.2L274.5 392.6L275.0 393.6L275.5 395.4L276.0 397.1L276.5 397.6L277.0 398.1L277.5 399.2L278.0 399.6L278.5 399.7L279.0 399.8L279.5 399.9L280.0 400.6L280.5 400.8L281.0 400.0L281.5 400.2L282.0 401.4L282.5 402.4L283.0 402.8L283.5 401.8L284.0 401.2L284.5 401.1L285.0 401.4L285.5 401.5L286.0 400.8L286.5 400.8L287.0 401.2L287.5 401.5L288.0 401.9L288.5 402.3L289.0 402.1L289.5 401.4L290.0 400.5L290.5 399.9L291.0 399.9L291.5 400.6L292.0 401.1L292.5 400.5L293.0 400.1L293.5 400.6L294.0 400.2L294.5 399.9L295.0 400.5L295.5 400.1L296.0 398.8L296.5 399.1L297.0 400.2L297.5 400.1L298.0 399.7L298.5 400.3L299.0 401.1L299.5 400.9L300.0 401.0L300.5 401.0L301.0 400.5L301.5 400.3L302.0 399.9L302.5 399.3L303.0 399.6L303.5 400.3L304.0 400.0L304.5 399.3L305.0 399.8L305.5 401.2L306.0 401.1L306.5 399.9L307.0 398.9L307.5 398.8L308.0 399.7L308.5 399.7L309.0 399.4L309.5 400.4L310.0 400.4L310.5 399.2L311.0 398.9L311.5 399.3L312.0 399.6L312.5 399.1L313.0 399.0L313.5 400.2L314.0 400.7L314.5 401.0L315.0 400.8L315.5 400.0L316.0 400.1L316.5 400.5L317.0 400.4L317.5 399.7L318.0 399.3L318.5 399.4L319.0 399.1L319.5 398.6L320.0 398.4L320.5 399.0L321.0 399.2L321.5 399.4L322.0 400.0L322.5 401.0L323.0 401.7L323.5 400.6L324.0 399.5L324.5 399.8L325.0 400.2L325.5 400.3L326.0 400.0L326.5 399.7L327.0 399.9L327.5 399.5L328.0 399.1L328.5 399.7L329.0 401.0L329.5 401.6L330.0 401.0L330.5 400.9L331.0 401.5L331.5 402.2L332.0 402.6L332.5 402.1L333.0 401.9L333.5 402.7L334.0 402.7L334.5 401.7L335.0 400.8L335.5 400.3L336.0 400.4L336.5 400.8L337.0 401.0L337.5 401.2L338.0 401.4L338.5 401.8L339.0 402.2L339.5 402.0L340.0 401.2L340.5 401.3L341.0 402.9L341.5 403.3L342.0 402.4L342.5 401.8L343.0 400.8L343.5 400.5L344.0 402.0L344.5 402.8L345.0 401.8L345.5 401.9L346.0 402.5L346.5 401.9L347.0 402.4L347.5 402.9L348.0 402.6L348.5 403.4L349.0 404.0L349.5 402.6L350.0 401.9L350.5 402.1L351.0 401.7L351.5 402.1L352.0 403.4L352.5 402.9L353.0 401.4L353.5 401.9L354.0 403.0L354.5 402.8L355.0 402.1L355.5 402.5L356.0 403.3L356.5 403.5L357.0 402.8L357.5 402.6L358.0 403.8L358.5 404.5L359.0 405.4L359.5 405.7L360.0 403.7L360.5 402.7L361.0 403.4L361.5 403.3L362.0 402.6L362.5 403.1L363.0 404.0L363.5 403.2L364.0 402.2L364.5 402.2L365.0 402.5L365.5 402.9L366.0 402.7L366.5 402.5L367.0 402.9L367.5 403.0L368.0 403.5L368.5 403.6L369.0 402.4L369.5 401.8L370.0 402.3L370.5 402.5L371.0 401.9L371.5 401.4L372.0 401.2L372.5 401.3L373.0 400.9L373.5 399.9L374.0 399.5L374.5 399.4L375.0 399.0L375.5 399.1L376.0 399.1L376.5 398.2L377.0 397.0L377.5 397.0L378.0 397.8L378.5 396.7L379.0 394.6L379.5 394.5L380.0 396.0L380.5 396.1L381.0 395.5L381.5 395.2L382.0 394.7L382.5 395.6L383.0 396.3L383.5 395.6L384.0 396.5L384.5 398.4L385.0 398.9L385.5 398.3L386.0 399.0L386.5 399.6L387.0 398.5L387.5 397.7L388.0 398.1L388.5 398.9L389.0 399.6L389.5 399.0L390.0 399.1L390.5 399.9L391.0 399.3L391.5 399.1L392.0 399.6L392.5 399.5L393.0 399.2L393.5 399.0L394.0 398.2L394.5 397.5L395.0 397.8L395.5 398.2L396.0 398.3L396.5 398.2L397.0 398.4L397.5 399.5L398.0 399.1L398.5 397.3L399.0 397.3L399.5 396.8L400.0 396.3L400.5 397.3L401.0 397.6L401.5 397.3L402.0 397.7L402.5 398.7L403.0 398.9L403.5 398.3L404.0 397.7L404.5 397.0L405.0 396.1L405.5 395.1L406.0 394.0L406.5 392.8L407.0 391.7L407.5 390.2L408.0 387.9L408.5 386.4L409.0 383.8L409.5 380.1L410.0 379.1L410.5 380.1L411.0 381.3L411.5 383.4L412.0 386.4L412.5 388.9L413.0 390.6L413.5 392.2L414.0 392.7L414.5 393.3L415.0 394.9L415.5 395.0L416.0 394.4L416.5 394.3L417.0 393.1L417.5 392.2L418.0 392.4L418.5 391.7L419.0 391.6L419.5 392.8L420.0 394.0L420.5 394.6L421.0 394.3L421.5 394.3L422.0 395.5L422.5 397.7L423.0 399.0L423.5 398.6L424.0 398.4L424.5 399.1L425.0 399.1L425.5 398.9L426.0 399.5L426.5 400.2L427.0 400.7L427.5 401.3L428.0 401.5L428.5 400.2L429.0 398.3L429.5 398.5L430.0 399.9L430.5 401.2L431.0 401.9L431.5 401.2L432.0 400.7L432.5 401.5L433.0 401.5L433.5 400.9L434.0 400.4L434.5 399.6L435.0 399.9L435.5 400.5L436.0 400.2L436.5 400.8L437.0 401.5L437.5 401.5L438.0 401.5L438.5 400.3L439.0 398.8L439.5 398.7L440.0 399.9L440.5 400.3L441.0 399.6L441.5 399.3L442.0 400.2L442.5 400.5L443.0 399.1L443.5 398.9L444.0 399.2L444.5 398.8L445.0 399.1L445.5 398.9L446.0 398.1L446.5 398.1L447.0 398.3L447.5 398.8L448.0 399.4L448.5 399.5L449.0 398.6L449.5 397.6L450.0 397.1L450.5 397.3L451.0 396.9L451.5 395.8L452.0 395.8L452.5 395.7L453.0 395.5L453.5 395.8L454.0 395.7L454.5 395.0L455.0 394.3L455.5 394.3L456.0 394.0L456.5 393.7L457.0 394.0L457.5 394.2L458.0 393.9L458.5 393.1L459.0 392.5L459.5 392.2L460.0 392.3L460.5 392.9L461.0 393.4L461.5 395.0L462.0 395.8L462.5 394.7L463.0 394.5L463.5 394.2L464.0 393.2L464.5 393.2L465.0 394.4L465.5 395.1L466.0 394.1L466.5 392.7L467.0 392.7L467.5 394.0L468.0 395.0L468.5 394.9L469.0 394.8L469.5 395.0L470.0 394.4L470.5 393.9L471.0 393.3L471.5 392.9L472.0 393.9L472.5 394.7L473.0 394.3L473.5 393.1L474.0 393.1L474.5 394.1L475.0 394.6L475.5 394.3L476.0 393.4L476.5 393.1L477.0 393.1L477.5 393.2L478.0 393.3L478.5 394.0L479.0 394.6L479.5 393.8L480.0 393.0L480.5 394.0L481.0 394.3L481.5 393.4L482.0 393.6L482.5 394.7L483.0 395.4L483.5 394.8L484.0 394.7L484.5 395.9L485.0 397.5L485.5 398.1L486.0 398.0L486.5 399.4L487.0 400.0L487.5 399.6L488.0 399.8L488.5 399.7L489.0 399.5L489.5 399.1L490.0 398.9L490.5 398.4L491.0 398.2L491.5 398.9L492.0 399.6L492.5 400.5L493.0 401.0L493.5 400.3L494.0 400.0L494.5 399.5L495.0 398.8L495.5 399.3L496.0 399.7L496.5 399.1L497.0 397.9L497.5 397.4L498.0 398.2L498.5 399.3L499.0 399.9L499.5 399.9L500.0 399.3L500.5 398.6L501.0 397.8L501.5 396.7L502.0 396.1L502.5 395.9L503.0 394.8L503.5 391.1L504.0 387.4L504.5 384.5L505.0 380.2L505.5 375.5L506.0 371.0L506.5 367.5L507.0 366.2L507.5 365.7L508.0 366.6L508.5 369.8L509.0 374.1L509.5 378.5L510.0 381.8L510.5 384.5L511.0 387.2L511.5 389.6L512.0 391.2L512.5 391.9L513.0 392.9L513.5 394.7L514.0 395.9L514.5 394.4L515.0 392.3L515.5 392.7L516.0 393.9L516.5 394.9L517.0 395.7L517.5 394.6L518.0 393.2L518.5 393.9L519.0 394.8L519.5 395.3L520.0 395.4L520.5 394.9L521.0 394.8L521.5 394.5L522.0 395.1L522.5 396.8L523.0 397.4L523.5 396.0L524.0 395.4L524.5 396.5L525.0 397.4L525.5 398.0L526.0 397.3L526.5 397.4L527.0 398.5L527.5 398.9L528.0 398.3L528.5 398.1L529.0 398.5L529.5 398.5L530.0 397.9L530.5 396.9L531.0 396.1L531.5 396.8L532.0 397.8L532.5 398.2L533.0 397.8L533.5 397.3L534.0 398.0L534.5 398.1L535.0 396.8L535.5 396.2L536.0 395.9L536.5 395.2L537.0 395.3L537.5 395.2L538.0 394.1L538.5 393.5L539.0 393.9L539.5 394.3L540.0 395.3L540.5 395.6L541.0 395.1L541.5 395.2L542.0 395.0L542.5 395.0L543.0 396.0L543.5 396.7L544.0 395.9L544.5 394.7L545.0 395.2L545.5 395.7L546.0 394.9L546.5 394.7L547.0 394.4L547.5 393.4L548.0 394.2L548.5 395.2L549.0 394.2L549.5 393.1L550.0 393.2L550.5 393.9L551.0 394.1L551.5 393.4L552.0 393.6L552.5 394.6L553.0 395.4L553.5 395.9L554.0 396.1L554.5 395.6L555.0 395.3L555.5 395.6L556.0 395.6L556.5 395.8L557.0 396.7L557.5 397.8L558.0 397.8L558.5 397.1L559.0 397.6L559.5 398.1L560.0 397.2L560.5 395.7L561.0 395.9L561.5 397.8L562.0 398.6L562.5 397.8L563.0 397.6L563.5 398.7L564.0 399.0L564.5 398.0L565.0 396.9L565.5 396.5L566.0 396.9L566.5 396.9L567.0 397.6L567.5 398.1L568.0 398.0L568.5 398.0L569.0 397.4L569.5 397.3L570.0 397.3L570.5 396.6L571.0 396.3L571.5 396.7L572.0 396.2L572.5 395.3L573.0 394.9L573.5 395.6L574.0 396.1L574.5 394.8L575.0 393.2L575.5 391.9L576.0 390.6L576.5 390.0L577.0 390.1L577.5 389.1L578.0 386.6L578.5 384.5L579.0 382.9L579.5 380.7L580.0 378.3L580.5 376.9L581.0 375.5L581.5 374.5L582.0 374.4L582.5 375.2L583.0 376.8L583.5 378.4L584.0 380.9L584.5 383.4L585.0 385.1L585.5 386.4L586.0 387.0L586.5 387.9L587.0 389.5L587.5 390.7L588.0 391.7L588.5 392.3L589.0 392.6L589.5 392.7L590.0 392.5L590.5 392.1L591.0 391.6L591.5 392.1L592.0 392.3L592.5 390.8L593.0 390.7L593.5 391.5L594.0 391.5L594.5 391.2L595.0 389.9L595.5 388.2L596.0 387.2L596.5 387.0L597.0 387.8L597.5 387.7L598.0 386.3L598.5 385.5L599.0 384.6L599.5 383.7L600.0 383.7L600.5 383.7L601.0 384.6L601.5 385.9L602.0 387.0L602.5 387.3L603.0 386.9L603.5 387.0L604.0 387.6L604.5 386.8L605.0 385.3L605.5 386.2L606.0 387.4L606.5 387.2L607.0 387.7L607.5 387.6L608.0 386.5L608.5 386.9L609.0 387.6L609.5 387.0L610.0 386.3L610.5 386.5L611.0 386.5L611.5 386.4L612.0 385.4L612.5 383.8L613.0 382.4L613.5 380.6L614.0 378.6L614.5 377.1L615.0 377.3L615.5 378.0L616.0 378.5L616.5 379.3L617.0 380.4L617.5 382.4L618.0 384.1L618.5 385.6L619.0 387.7L619.5 389.1L620.0 390.3L620.5 390.4L621.0 389.8L621.5 390.2L622.0 390.5L622.5 390.8L623.0 390.8L623.5 390.1L624.0 389.8L624.5 389.6L625.0 389.5L625.5 390.0L626.0 390.7L626.5 390.8L627.0 390.4L627.5 390.2L628.0 389.6L628.5 388.4L629.0 388.3L629.5 388.9L630.0 389.4L630.5 389.3L631.0 388.7L631.5 388.2L632.0 387.6L632.5 386.9L633.0 386.2L633.5 386.6L634.0 388.6L634.5 389.5L635.0 388.3L635.5 387.4L636.0 387.0L636.5 388.0L637.0 389.6L637.5 389.9L638.0 389.6L638.5 390.1L639.0 391.0L639.5 392.1L640.0 392.6L640.5 392.4L641.0 392.5L641.5 392.0L642.0 391.6L642.5 392.5L643.0 393.5L643.5 393.2L644.0 392.7L644.5 393.2L645.0 393.5L645.5 394.0L646.0 394.0L646.5 392.6L647.0 392.6L647.5 393.5L648.0 392.9L648.5 392.8L649.0 393.6L649.5 393.9L650.0 394.1L650.5 393.9L651.0 393.8L651.5 394.8L652.0 395.1L652.5 394.4L653.0 394.5L653.5 394.4L654.0 393.6L654.5 392.8L655.0 391.7L655.5 391.3L656.0 391.3L656.5 390.9L657.0 389.5L657.5 386.8L658.0 384.5L658.5 382.4L659.0 380.6L659.5 378.7L660.0 376.6L660.5 376.2L661.0 376.8L661.5 378.8L662.0 381.9L662.5 384.5L663.0 387.1L663.5 389.2L664.0 390.7L664.5 391.6L665.0 392.1L665.5 393.6L666.0 395.2L666.5 395.5L667.0 395.6L667.5 396.9L668.0 397.1L668.5 396.0L669.0 396.3L669.5 396.9L670.0 396.4L670.5 396.8L671.0 397.7L671.5 398.1L672.0 398.5L672.5 398.5L673.0 398.2L673.5 399.0L674.0 399.8L674.5 398.8L675.0 398.6L675.5 399.2L676.0 399.6L676.5 400.4L677.0 400.6L677.5 399.7L678.0 399.1L678.5 400.6L679.0 401.3L679.5 400.9L680.0 401.4L680.5 401.7L681.0 402.2L681.5 402.6L682.0 401.4L682.5 400.5L683.0 400.5L683.5 400.2L684.0 400.2L684.5 400.5L685.0 401.2L685.5 402.5L686.0 402.4L686.5 401.9L687.0 401.8L687.5 401.0L688.0 401.0L688.5 402.2L689.0 403.2L689.5 403.3L690.0 403.3L690.5 403.7L691.0 403.8L691.5 403.4L692.0 402.0L692.5 401.1L693.0 402.2L693.5 403.3L694.0 403.6L694.5 403.9L695.0 404.0L695.5 403.9L696.0 403.6L696.5 403.3L697.0 403.3L697.5 402.9L698.0 402.3L698.5 402.4L699.0 402.6L699.5 402.8L700.0 403.2L700.5 402.9L701.0 402.9L701.5 402.8L702.0 402.9L702.5 403.5L703.0 403.7L703.5 403.5L704.0 402.5L704.5 401.4L705.0 401.4L705.5 402.9L706.0 403.7L706.5 403.2L707.0 402.4L707.5 402.8L708.0 404.2L708.5 403.3L709.0 401.5L709.5 400.8L710.0 401.1L710.5 403.3L711.0 404.8L711.5 404.0L712.0 402.6L712.5 401.4L713.0 401.3L713.5 401.8L714.0 401.7L714.5 401.4L715.0 401.4L715.5 401.9L716.0 403.1L716.5 403.5L717.0 402.6L717.5 401.6L718.0 400.7L718.5 400.2L719.0 400.9L719.5 402.0L720.0 402.5L720.5 402.5L721.0 402.1L721.5 401.0L722.0 400.4L722.5 400.3L723.0 401.0L723.5 402.4L724.0 402.1L724.5 401.8L725.0 402.4L725.5 401.8L726.0 401.4L726.5 401.3L727.0 401.2L727.5 401.1L728.0 401.7L728.5 401.7L729.0 399.8L729.5 399.4L730.0 401.1L730.5 401.7L731.0 401.4L731.5 401.4L732.0 402.4L732.5 402.1L733.0 400.8L733.5 400.6L734.0 400.0L734.5 399.4L735.0 400.3L735.5 400.7L736.0 399.7L736.5 400.0L737.0 401.3L737.5 401.5L738.0 400.9L738.5 400.2L739.0 400.3L739.5 401.0L740.0 401.4L740.5 401.9L741.0 402.4L741.5 401.4L742.0 400.0L742.5 400.2L743.0 401.4L743.5 402.0L744.0 401.3L744.5 400.9L745.0 401.1L745.5 400.8L746.0 400.7L746.5 401.5L747.0 402.4L747.5 402.2L748.0 401.8L748.5 401.5L749.0 401.4L749.5 402.3L750.0 402.8L750.5 401.8L751.0 401.6L751.5 401.8L752.0 400.4L752.5 400.1L753.0 401.4L753.5 401.8L754.0 401.5L754.5 401.8L755.0 402.1L755.5 402.3L756.0 403.3L756.5 403.8L757.0 403.1L757.5 401.6L758.0 401.3L758.5 402.7L759.0 402.2L759.5 401.3L760.0 402.6L760.5 403.6L761.0 402.7L761.5 402.6L762.0 404.0L762.5 404.0L763.0 403.5L763.5 402.8L764.0 401.5L764.5 401.8L765.0 403.3L765.5 404.0L766.0 402.8L766.5 401.6L767.0 401.2L767.5 401.5L768.0 402.2L768.5 402.6L769.0 403.1L769.5 403.9L770.0 403.7L770.5 403.5L771.0 403.8L771.5 403.1L772.0 401.7L772.5 401.2L773.0 401.7L773.5 402.3L774.0 402.6L774.5 401.4L775.0 400.4L775.5 401.8L776.0 402.8L776.5 402.4L777.0 402.2L777.5 402.8L778.0 403.4L778.5 402.8L779.0 401.9L779.5 401.0L780.0 401.1L780.5 402.7L781.0 402.8L781.5 401.8L782.0 402.1L782.5 402.1L783.0 401.5L783.5 401.7L784.0 401.7L784.5 401.0L785.0 400.9L785.5 401.4L786.0 401.5L786.5 401.6L787.0 401.9L787.5 401.7L788.0 401.2L788.5 401.1L789.0 401.7L789.5 401.8L790.0 400.9L790.5 401.0L791.0 401.7L791.5 401.3L792.0 400.8L792.5 401.0L793.0 400.9L793.5 400.6L794.0 400.8L794.5 400.6L795.0 400.3L795.5 400.7L796.0 401.0L796.5 401.5L797.0 401.9L797.5 401.2L798.0 400.5L798.5 400.3L799.0 399.8L799.5 400.5L800.0 401.9L800.5 402.1L801.0 401.9L801.5 401.3L802.0 400.5L802.5 400.4L803.0 401.0L803.5 401.2L804.0 401.3L804.5 401.5L805.0 401.4L805.5 401.1L806.0 400.8L806.5 400.5L807.0 399.5L807.5 399.2L808.0 401.1L808.5 402.7L809.0 403.0L809.5 402.9L810.0 401.6L810.5 400.0L811.0 400.1L811.5 401.2L812.0 401.3L812.5 401.2L813.0 401.1L813.5 400.8L814.0 401.0L814.5 401.1L815.0 401.5L815.5 401.9L816.0 401.9L816.5 402.5L817.0 402.3L817.5 402.0L818.0 402.2L818.5 401.2L819.0 401.1L819.5 401.0L820.0 400.4L820.5 401.7L821.0 402.5L821.5 401.9L822.0 401.7L822.5 401.7L823.0 401.9L823.5 402.1L824.0 401.7L824.5 401.6L825.0 402.2L825.5 402.8L826.0 402.3L826.5 400.4L827.0 399.9L827.5 401.0L828.0 401.4L828.5 401.2L829.0 402.0L829.5 402.6L830.0 403.0L830.5 402.9L831.0 401.9L831.5 402.4L832.0 403.6L832.5 402.9L833.0 401.7L833.5 402.3L834.0 403.8L834.5 404.3L835.0 403.8L835.5 402.9L836.0 401.9L836.5 402.2L837.0 402.8L837.5 402.1L838.0 401.4L838.5 401.7L839.0 402.8L839.5 403.1L840.0 402.4L840.5 401.3L841.0 401.8L841.5 403.3L842.0 402.8L842.5 402.4L843.0 403.1L843.5 402.6L844.0 401.3L844.5 401.5L845.0 402.5L845.5 403.0L846.0 403.0L846.5 402.6L847.0 402.6L847.5 403.0" fill="none" stroke="#23a85a" stroke-width="2.8" stroke-linejoin="round"/>
<path d="M48.0 271.7L48.5 271.9L49.0 271.2L49.5 270.6L50.0 271.3L50.5 271.3L51.0 270.7L51.5 271.0L52.0 271.0L52.5 270.6L53.0 270.3L53.5 269.8L54.0 269.0L54.5 268.3L55.0 268.2L55.5 268.0L56.0 267.2L56.5 265.8L57.0 264.7L57.5 264.1L58.0 263.5L58.5 263.0L59.0 263.1L59.5 261.6L60.0 258.8L60.5 258.6L61.0 260.0L61.5 261.1L62.0 262.0L62.5 263.7L63.0 264.7L63.5 264.3L64.0 265.4L64.5 267.7L65.0 268.3L65.5 268.1L66.0 267.6L66.5 267.5L67.0 268.8L67.5 269.3L68.0 268.9L68.5 269.2L69.0 269.7L69.5 269.8L70.0 270.2L70.5 270.7L71.0 270.6L71.5 270.6L72.0 271.3L72.5 271.7L73.0 271.1L73.5 270.6L74.0 270.9L74.5 271.0L75.0 270.8L75.5 270.6L76.0 270.9L76.5 270.5L77.0 269.6L77.5 269.9L78.0 270.4L78.5 270.1L79.0 269.1L79.5 268.8L80.0 268.9L80.5 268.3L81.0 267.3L81.5 265.1L82.0 261.6L82.5 259.3L83.0 257.6L83.4 255.9L83.5 255.6L84.0 257.9L84.5 261.1L85.0 263.9L85.5 265.3L86.0 266.3L86.5 267.8L87.0 269.1L87.5 269.9L88.0 269.5L88.5 268.4L89.0 268.8L89.5 270.3L90.0 270.5L90.5 269.7L91.0 269.9L91.5 270.4L92.0 270.6L92.5 270.7L93.0 270.2L93.5 269.6L94.0 269.8L94.5 269.4L95.0 268.2L95.5 268.5L96.0 268.7L96.5 268.2L97.0 268.4L97.5 268.6L98.0 268.7L98.5 268.6L99.0 268.6L99.5 268.6L100.0 267.3L100.5 265.3L101.0 264.8L101.5 265.2L102.0 263.6L102.5 261.1L103.0 258.9L103.5 255.2L104.0 247.9L104.5 231.9L105.0 201.0L105.5 150.8L106.0 86.9L106.5 36.9L106.7 32.3L107.0 44.5L107.5 98.8L108.0 160.7L108.5 209.2L109.0 237.3L109.5 249.1L110.0 255.0L110.5 259.3L111.0 261.4L111.5 262.8L112.0 264.5L112.5 265.7L113.0 266.3L113.5 266.8L114.0 266.9L114.5 266.7L115.0 266.7L115.5 266.7L116.0 266.3L116.5 265.1L117.0 264.3L117.5 263.9L118.0 262.4L118.4 261.7L118.5 261.8L119.0 262.5L119.5 264.3L120.0 266.5L120.5 267.5L121.0 268.0L121.5 269.0L122.0 268.9L122.5 268.3L123.0 268.6L123.5 269.8L124.0 270.4L124.5 269.7L125.0 268.9L125.5 268.6L126.0 269.6L126.5 270.5L127.0 269.9L127.5 269.5L128.0 270.0L128.5 270.4L129.0 270.7L129.5 270.5L130.0 268.6L130.5 266.2L131.0 264.0L131.5 261.4L132.0 258.7L132.5 257.1L132.6 256.5L133.0 257.0L133.5 260.1L134.0 262.8L134.5 265.1L135.0 268.1L135.5 270.1L136.0 270.3L136.5 269.8L137.0 270.4L137.5 272.1L138.0 271.5L138.5 269.7L139.0 269.6L139.5 269.8L140.0 269.6L140.5 270.0L141.0 270.8L141.5 271.7L142.0 270.8L142.5 269.2L143.0 269.3L143.5 270.1L144.0 271.0L144.5 271.5L145.0 270.9L145.5 270.9L146.0 272.4L146.5 272.5L147.0 270.9L147.5 270.5L148.0 270.5L148.5 270.2L149.0 270.6L149.5 271.4L150.0 270.8L150.5 270.5L151.0 270.9L151.5 270.5L152.0 270.3L152.5 270.4L153.0 270.2L153.5 269.9L154.0 270.1L154.5 270.5L155.0 270.6L155.5 270.7L156.0 270.9L156.5 271.2L157.0 270.8L157.5 270.4L158.0 270.2L158.5 269.8L159.0 270.0L159.5 270.3L160.0 270.0L160.5 270.0L161.0 270.9L161.5 271.0L162.0 269.9L162.5 269.4L163.0 270.4L163.5 270.6L164.0 270.1L164.5 270.5L165.0 270.1L165.5 269.7L166.0 270.3L166.5 270.6L167.0 270.1L167.5 270.2L168.0 271.0L168.5 270.2L169.0 269.4L169.5 270.2L170.0 270.5L170.5 270.4L171.0 270.2L171.5 270.2L172.0 270.2L172.5 270.0L173.0 270.2L173.5 269.7L174.0 269.3L174.5 269.9L175.0 270.1L175.5 269.5L176.0 269.3L176.5 269.2L177.0 268.2L177.5 268.1L178.0 268.5L178.5 268.2L179.0 268.4L179.5 269.0L180.0 268.7L180.5 267.7L181.0 267.2L181.5 266.7L182.0 266.6L182.5 267.6L183.0 266.3L183.5 264.8L184.0 264.7L184.5 262.8L185.0 260.4L185.5 258.9L186.0 255.6L186.5 249.3L187.0 241.4L187.5 231.0L188.0 217.7L188.5 203.2L189.0 188.3L189.5 175.4L190.0 169.8L190.5 173.0L191.0 182.8L191.5 194.9L192.0 205.1L192.5 211.4L193.0 213.0L193.5 209.9L194.0 203.7L194.5 197.4L195.0 192.4L195.5 190.8L196.0 195.7L196.5 206.0L197.0 217.7L197.5 229.2L198.0 239.4L198.5 247.7L199.0 254.0L199.5 257.8L200.0 260.5L200.5 262.4L201.0 263.6L201.5 264.5L202.0 264.3L202.5 264.2L203.0 264.9L203.5 265.1L204.0 265.1L204.5 265.3L205.0 265.9L205.5 267.1L206.0 267.1L206.5 266.3L207.0 266.2L207.5 266.6L208.0 266.7L208.5 266.4L209.0 266.5L209.5 267.0L210.0 267.5L210.5 268.5L211.0 268.8L211.5 268.3L212.0 267.6L212.5 267.2L213.0 267.6L213.5 268.0L214.0 268.4L214.5 267.9L215.0 266.4L215.5 266.2L216.0 266.6L216.5 266.4L217.0 265.8L217.5 265.7L218.0 266.3L218.5 266.4L219.0 265.5L219.5 264.5L220.0 264.6L220.5 265.0L221.0 264.1L221.5 263.3L222.0 264.1L222.5 264.7L223.0 264.4L223.5 264.2L224.0 264.1L224.5 263.9L225.0 264.3L225.5 264.8L226.0 265.7L226.5 266.1L227.0 265.6L227.5 265.8L228.0 266.8L228.5 267.8L229.0 267.4L229.5 266.8L230.0 267.6L230.5 269.0L231.0 268.9L231.5 267.4L232.0 267.6L232.5 268.5L233.0 267.4L233.5 267.3L234.0 268.8L234.5 269.2L235.0 268.6L235.5 268.8L236.0 269.4L236.5 269.7L237.0 269.6L237.5 269.1L238.0 268.4L238.5 268.3L239.0 269.1L239.5 269.7L240.0 269.4L240.5 268.8L241.0 269.3L241.5 269.6L242.0 269.0L242.5 268.6L243.0 268.1L243.5 267.8L244.0 268.6L244.5 268.9L245.0 268.7L245.5 268.7L246.0 268.1L246.5 268.0L247.0 269.2L247.5 269.7L248.0 268.8L248.5 269.2L249.0 270.0L249.5 270.1L250.0 269.7L250.5 268.1L251.0 267.5L251.5 268.5L252.0 268.5L252.5 268.1L253.0 268.6L253.5 269.7L254.0 269.8L254.5 269.3L255.0 269.6L255.5 269.5L256.0 269.1L256.5 269.1L257.0 269.2L257.5 269.6L258.0 269.5L258.5 269.4L259.0 269.5L259.5 269.2L260.0 269.3L260.5 270.0L261.0 270.1L261.5 269.8L262.0 270.2L262.5 269.7L263.0 268.7L263.5 268.7L264.0 269.2L264.5 268.8L265.0 267.8L265.5 267.5L266.0 267.8L266.5 268.5L267.0 269.6L267.5 270.1L268.0 269.6L268.5 268.7L269.0 268.0L269.5 268.1L270.0 268.9L270.5 269.1L271.0 267.7L271.5 265.5L272.0 263.7L272.5 261.2L273.0 258.2L273.5 254.9L274.0 251.5L274.5 247.3L275.0 242.6L275.5 239.8L276.0 239.1L276.5 240.5L277.0 244.6L277.5 248.9L278.0 252.8L278.5 256.9L279.0 260.3L279.5 262.7L280.0 264.6L280.5 266.2L281.0 266.9L281.5 267.0L282.0 267.1L282.5 267.3L283.0 268.3L283.5 269.2L284.0 269.2L284.5 269.3L285.0 269.3L285.5 268.8L286.0 269.0L286.5 269.9L287.0 270.3L287.5 270.8L288.0 271.3L288.5 270.6L289.0 270.6L289.5 270.7L290.0 269.7L290.5 268.6L291.0 268.6L291.5 269.8L292.0 270.6L292.5 270.4L293.0 269.8L293.5 269.8L294.0 269.3L294.5 268.7L295.0 269.3L295.5 269.5L296.0 269.7L296.5 270.4L297.0 269.4L297.5 268.3L298.0 269.1L298.5 270.0L299.0 270.0L299.5 270.3L300.0 270.7L300.5 269.9L301.0 269.0L301.5 269.7L302.0 270.5L302.5 269.4L303.0 269.0L303.5 269.9L304.0 270.6L304.5 270.7L305.0 270.3L305.5 269.9L306.0 270.5L306.5 270.2L307.0 269.7L307.5 271.3L308.0 271.9L308.5 270.3L309.0 270.3L309.5 270.5L310.0 268.9L310.5 267.8L311.0 268.3L311.5 269.0L312.0 269.7L312.5 270.4L313.0 270.0L313.5 269.5L314.0 270.6L314.5 271.9L315.0 271.8L315.5 271.1L316.0 270.7L316.5 270.4L317.0 270.0L317.5 270.2L318.0 270.6L318.5 270.9L319.0 270.4L319.5 269.5L320.0 270.2L320.5 270.5L321.0 269.5L321.5 269.0L322.0 268.8L322.5 269.1L323.0 270.6L323.5 271.5L324.0 271.1L324.5 270.4L325.0 270.1L325.5 269.9L326.0 269.9L326.5 270.7L327.0 271.3L327.5 270.8L328.0 270.0L328.5 269.8L329.0 270.5L329.5 271.2L330.0 270.1L330.5 268.9L331.0 270.2L331.5 271.6L332.0 271.4L332.5 270.8L333.0 269.6L333.5 268.0L334.0 267.6L334.5 268.4L335.0 269.5L335.5 270.3L336.0 270.4L336.5 270.2L337.0 270.3L337.5 269.8L338.0 269.6L338.5 269.9L339.0 268.6L339.5 267.4L340.0 268.2L340.5 268.5L341.0 267.7L341.5 268.4L342.0 269.0L342.5 268.2L343.0 268.2L343.5 268.8L344.0 269.7L344.5 270.5L345.0 269.9L345.5 268.5L346.0 268.8L346.5 270.5L347.0 271.3L347.5 270.6L348.0 270.6L348.5 270.9L349.0 270.0L349.5 268.8L350.0 268.2L350.5 269.2L351.0 270.1L351.5 268.9L352.0 268.1L352.5 268.0L353.0 268.7L353.5 269.1L354.0 268.6L354.5 268.5L355.0 268.2L355.5 267.7L356.0 267.0L356.5 264.9L357.0 261.8L357.5 258.7L358.0 256.1L358.5 253.5L359.0 251.3L359.5 250.1L360.0 248.2L360.5 246.3L361.0 247.6L361.5 250.2L362.0 252.0L362.5 255.4L363.0 259.1L363.5 260.9L364.0 262.6L364.5 264.7L365.0 266.4L365.5 267.2L366.0 267.8L366.5 268.2L367.0 268.5L367.5 268.6L368.0 267.6L368.5 266.4L369.0 266.0L369.5 266.3L370.0 267.6L370.5 268.6L371.0 268.2L371.5 267.1L372.0 266.5L372.5 266.6L373.0 266.5L373.5 265.8L374.0 265.1L374.5 265.4L375.0 265.0L375.5 263.0L376.0 261.3L376.5 259.5L377.0 257.5L377.5 253.6L378.0 248.3L378.5 243.7L379.0 237.7L379.5 229.1L380.0 220.0L380.5 210.8L381.0 203.9L381.5 202.5L382.0 204.5L382.5 210.1L383.0 219.1L383.5 228.0L384.0 236.0L384.5 243.4L385.0 249.3L385.5 253.9L386.0 257.4L386.5 259.9L387.0 262.0L387.5 264.0L388.0 265.3L388.5 265.6L389.0 265.0L389.5 265.3L390.0 265.3L390.5 264.1L391.0 264.9L391.5 266.8L392.0 267.4L392.5 267.2L393.0 266.9L393.5 266.6L394.0 265.8L394.5 264.9L395.0 264.8L395.5 265.5L396.0 265.8L396.5 264.7L397.0 263.2L397.5 263.7L398.0 265.4L398.5 266.0L399.0 265.4L399.5 264.3L400.0 264.5L400.5 265.6L401.0 265.6L401.5 266.0L402.0 265.9L402.5 264.1L403.0 262.4L403.5 261.0L404.0 259.2L404.5 257.2L405.0 254.3L405.5 249.9L406.0 244.1L406.5 235.7L407.0 224.8L407.5 212.7L408.0 199.7L408.5 187.8L409.0 179.8L409.5 177.5L410.0 181.6L410.5 189.6L411.0 198.5L411.5 206.7L412.0 213.4L412.5 217.9L413.0 220.8L413.5 223.2L414.0 224.2L414.5 225.3L415.0 228.0L415.5 231.3L416.0 235.6L416.5 239.7L417.0 242.4L417.5 244.6L418.0 246.2L418.5 246.4L419.0 245.4L419.5 243.6L420.0 242.8L420.5 244.5L421.0 247.8L421.5 252.5L422.0 256.9L422.5 259.5L423.0 261.3L423.5 263.4L424.0 264.8L424.5 265.5L425.0 266.8L425.5 267.7L426.0 267.7L426.5 268.0L427.0 268.3L427.5 268.0L428.0 268.4L428.5 269.4L429.0 270.1L429.5 270.0L430.0 268.4L430.5 267.8L431.0 269.2L431.5 269.2L432.0 267.2L432.5 265.6L433.0 264.4L433.5 262.5L434.0 260.8L434.5 260.1L435.0 260.8L435.5 262.3L436.0 265.2L436.5 267.8L437.0 268.5L437.5 268.8L438.0 268.4L438.5 267.7L439.0 268.1L439.5 269.2L440.0 269.8L440.5 269.5L441.0 268.4L441.5 268.0L442.0 268.7L442.5 269.6L443.0 269.2L443.5 267.2L444.0 265.5L444.5 265.6L445.0 266.7L445.5 266.2L446.0 265.1L446.5 264.0L447.0 262.2L447.5 262.2L448.0 263.5L448.5 263.2L449.0 261.6L449.5 260.3L450.0 260.3L450.5 259.3L451.0 256.7L451.5 254.8L452.0 253.5L452.5 252.0L453.0 250.0L453.5 247.6L454.0 245.4L454.5 243.8L455.0 242.3L455.5 241.2L456.0 240.9L456.5 240.8L457.0 240.5L457.5 241.3L458.0 242.8L458.5 243.5L459.0 244.6L459.5 246.3L460.0 247.3L460.5 248.0L461.0 248.3L461.5 248.6L462.0 249.9L462.5 251.0L463.0 250.0L463.5 248.5L464.0 248.0L464.5 247.0L465.0 246.0L465.5 244.5L466.0 242.9L466.5 242.0L467.0 240.6L467.5 239.3L468.0 239.0L468.5 239.3L469.0 239.1L469.5 238.9L470.0 239.6L470.5 240.7L471.0 242.8L471.5 245.4L472.0 246.9L472.5 247.3L473.0 246.7L473.5 246.4L474.0 246.3L474.5 246.0L475.0 244.4L475.5 242.6L476.0 240.9L476.5 236.7L477.0 232.2L477.5 229.3L478.0 226.4L478.5 223.2L479.0 221.2L479.5 221.4L480.0 222.7L480.5 225.5L481.0 228.1L481.5 229.8L482.0 232.6L482.5 236.4L483.0 240.1L483.5 243.0L484.0 244.8L484.5 246.2L485.0 248.2L485.5 249.4L486.0 249.0L486.5 249.5L487.0 250.4L487.5 250.6L488.0 251.3L488.5 252.6L489.0 253.0L489.5 252.1L490.0 252.0L490.5 252.9L491.0 252.4L491.5 251.2L492.0 251.0L492.5 251.9L493.0 253.0L493.5 252.5L494.0 251.0L494.5 250.4L495.0 251.0L495.5 250.7L496.0 250.6L496.5 251.2L497.0 251.3L497.5 251.9L498.0 251.6L498.5 250.1L499.0 249.5L499.5 249.3L500.0 249.8L500.5 249.6L501.0 248.7L501.5 248.3L502.0 246.3L502.5 243.4L503.0 241.7L503.5 238.9L504.0 234.4L504.5 229.6L505.0 224.9L505.5 220.3L506.0 214.7L506.5 209.3L507.0 205.4L507.5 202.5L508.0 203.3L508.5 207.0L509.0 211.1L509.5 216.2L510.0 221.2L510.5 225.7L511.0 230.7L511.5 235.0L512.0 238.2L512.5 240.5L513.0 242.4L513.5 244.2L514.0 246.5L514.5 248.5L515.0 249.0L515.5 249.2L516.0 250.7L516.5 251.2L517.0 251.2L517.5 252.6L518.0 254.0L518.5 254.5L519.0 255.0L519.5 255.5L520.0 255.5L520.5 254.4L521.0 253.4L521.5 254.2L522.0 255.3L522.5 255.6L523.0 256.3L523.5 256.7L524.0 257.0L524.5 257.1L525.0 256.6L525.5 256.5L526.0 256.2L526.5 256.1L527.0 256.6L527.5 256.9L528.0 256.9L528.5 256.5L529.0 256.4L529.5 256.5L530.0 256.6L530.5 256.5L531.0 256.6L531.5 256.9L532.0 256.3L532.5 256.5L533.0 257.8L533.5 258.2L534.0 257.8L534.5 257.8L535.0 257.6L535.5 255.7L536.0 254.4L536.5 254.7L537.0 255.4L537.5 255.7L538.0 256.0L538.5 255.9L539.0 255.1L539.5 254.7L540.0 255.9L540.5 258.0L541.0 258.4L541.5 257.7L542.0 257.2L542.5 257.0L543.0 257.0L543.5 256.1L544.0 255.3L544.5 255.9L545.0 256.6L545.5 256.8L546.0 257.3L546.5 257.7L547.0 258.0L547.5 257.6L548.0 256.6L548.5 258.0L549.0 259.9L549.5 259.7L550.0 260.1L550.5 260.9L551.0 261.1L551.5 261.2L552.0 260.4L552.5 259.7L553.0 260.0L553.5 260.8L554.0 261.8L554.5 262.5L555.0 262.6L555.5 263.2L556.0 264.4L556.5 264.0L557.0 263.4L557.5 263.6L558.0 263.3L558.5 263.2L559.0 263.9L559.5 264.7L560.0 265.0L560.5 264.7L561.0 263.7L561.5 264.1L562.0 265.2L562.5 264.9L563.0 264.7L563.5 265.4L564.0 265.0L564.5 263.7L565.0 263.4L565.5 263.8L566.0 263.2L566.5 262.6L567.0 262.5L567.5 262.5L568.0 263.8L568.5 265.0L569.0 264.5L569.5 264.0L570.0 264.3L570.5 263.6L571.0 262.8L571.5 262.9L572.0 263.3L572.5 264.2L573.0 263.9L573.5 262.6L574.0 263.1L574.5 264.2L575.0 264.2L575.5 263.3L576.0 262.6L576.5 262.5L577.0 261.9L577.5 262.2L578.0 263.3L578.5 262.9L579.0 261.5L579.5 259.8L580.0 257.8L580.5 256.4L581.0 255.3L581.5 252.8L582.0 249.2L582.5 245.7L583.0 243.0L583.5 239.6L584.0 234.9L584.5 231.3L585.0 228.6L585.5 225.1L586.0 221.9L586.5 220.5L587.0 221.3L587.5 224.2L588.0 227.7L588.5 231.3L589.0 235.2L589.5 238.2L590.0 241.7L590.5 245.6L591.0 248.0L591.5 250.0L592.0 252.6L592.5 254.2L593.0 254.7L593.5 256.1L594.0 257.4L594.5 258.3L595.0 259.0L595.5 258.9L596.0 259.0L596.5 259.8L597.0 260.2L597.5 260.5L598.0 260.7L598.5 260.4L599.0 260.4L599.5 260.0L600.0 259.9L600.5 261.1L601.0 262.1L601.5 261.4L602.0 260.7L602.5 260.9L603.0 260.2L603.5 259.7L604.0 260.2L604.5 260.6L605.0 260.6L605.5 260.1L606.0 260.3L606.5 260.6L607.0 260.2L607.5 259.6L608.0 259.6L608.5 260.1L609.0 260.2L609.5 259.8L610.0 259.4L610.5 258.9L611.0 258.6L611.5 259.1L612.0 259.5L612.5 259.2L613.0 258.9L613.5 258.6L614.0 257.8L614.5 255.7L615.0 253.6L615.5 252.8L616.0 251.1L616.5 249.0L617.0 247.7L617.5 246.1L618.0 244.3L618.5 243.0L619.0 242.9L619.5 244.4L620.0 246.0L620.5 247.0L621.0 248.9L621.5 250.8L622.0 251.6L622.5 254.1L623.0 256.9L623.5 257.6L624.0 258.4L624.5 259.1L625.0 259.0L625.5 259.0L626.0 260.3L626.5 261.4L627.0 261.4L627.5 262.1L628.0 263.3L628.5 263.6L629.0 263.2L629.5 263.4L630.0 263.3L630.5 261.9L631.0 261.5L631.5 262.0L632.0 261.1L632.5 260.9L633.0 262.0L633.5 261.8L634.0 260.8L634.5 260.8L635.0 261.8L635.5 263.6L636.0 264.0L636.5 262.9L637.0 262.4L637.5 262.1L638.0 262.7L638.5 264.2L639.0 265.5L639.5 265.1L640.0 264.1L640.5 264.1L641.0 264.4L641.5 264.9L642.0 265.3L642.5 266.1L643.0 266.7L643.5 265.9L644.0 264.2L644.5 263.7L645.0 264.8L645.5 265.9L646.0 265.5L646.5 265.1L647.0 265.0L647.5 264.3L648.0 264.5L648.5 265.5L649.0 265.4L649.5 265.2L650.0 265.3L650.5 264.8L651.0 264.4L651.5 264.7L652.0 265.1L652.5 264.4L653.0 263.3L653.5 263.3L654.0 264.0L654.5 263.2L655.0 260.9L655.5 259.1L656.0 257.5L656.5 255.3L657.0 252.7L657.5 249.3L658.0 244.6L658.5 239.2L659.0 234.9L659.5 231.7L660.0 229.8L660.5 229.7L661.0 229.4L661.5 230.0L662.0 233.1L662.5 236.5L663.0 240.9L663.5 246.6L664.0 250.5L664.5 253.6L665.0 256.8L665.5 258.1L666.0 259.5L666.5 261.9L667.0 263.1L667.5 263.5L668.0 264.1L668.5 264.7L669.0 264.9L669.5 264.4L670.0 263.7L670.5 264.4L671.0 265.7L671.5 266.0L672.0 266.9L672.5 267.4L673.0 266.9L673.5 267.6L674.0 268.7L674.5 268.9L675.0 269.3L675.5 269.3L676.0 268.6L676.5 267.6L677.0 266.9L677.5 267.1L678.0 268.2L678.5 268.6L679.0 268.7L679.5 268.8L680.0 268.8L680.5 269.2L681.0 269.2L681.5 268.9L682.0 269.0L682.5 269.9L683.0 270.3L683.5 269.1L684.0 269.4L684.5 270.7L685.0 270.4L685.5 270.4L686.0 270.6L686.5 269.4L687.0 269.0L687.5 269.6L688.0 268.7L688.5 268.6L689.0 270.5L689.5 271.6L690.0 271.2L690.5 270.7L691.0 270.5L691.5 270.9L692.0 272.2L692.5 272.5L693.0 271.3L693.5 270.5L694.0 271.8L694.5 273.2L695.0 273.1L695.5 272.6L696.0 271.8L696.5 271.7L697.0 272.2L697.5 272.3L698.0 272.0L698.5 272.2L699.0 272.4L699.5 271.6L700.0 271.2L700.5 271.7L701.0 272.7L701.5 273.4L702.0 273.2L702.5 272.1L703.0 271.6L703.5 272.7L704.0 272.5L704.5 271.6L705.0 271.3L705.5 271.3L706.0 271.7L706.5 271.6L707.0 270.3L707.5 269.4L708.0 270.5L708.5 271.7L709.0 271.6L709.5 271.4L710.0 271.7L710.5 271.8L711.0 271.6L711.5 271.2L712.0 269.7L712.5 269.1L713.0 269.0L713.5 268.6L714.0 269.7L714.5 271.7L715.0 272.0L715.5 271.8L716.0 271.9L716.5 271.2L717.0 270.4L717.5 270.5L718.0 270.8L718.5 270.4L719.0 270.0L719.5 270.4L720.0 270.7L720.5 270.2L721.0 269.4L721.5 269.5L722.0 270.4L722.5 270.4L723.0 270.2L723.5 271.0L724.0 270.8L724.5 270.3L725.0 270.7L725.5 270.8L726.0 271.5L726.5 272.1L727.0 271.0L727.5 269.6L728.0 269.5L728.5 270.1L729.0 269.8L729.5 269.0L730.0 269.1L730.5 270.6L731.0 270.5L731.5 268.8L732.0 269.0L732.5 269.8L733.0 270.2L733.5 270.3L734.0 269.4L734.5 268.2L735.0 267.4L735.5 268.0L736.0 269.4L736.5 269.4L737.0 268.8L737.5 268.5L738.0 268.5L738.5 269.6L739.0 270.8L739.5 270.2L740.0 269.3L740.5 269.8L741.0 269.0L741.5 267.8L742.0 268.0L742.5 268.8L743.0 269.3L743.5 268.8L744.0 268.6L744.5 270.1L745.0 271.2L745.5 270.6L746.0 270.4L746.5 271.5L747.0 271.7L747.5 270.5L748.0 270.3L748.5 270.0L749.0 269.9L749.5 271.6L750.0 272.7L750.5 270.9L751.0 269.9L751.5 271.0L752.0 270.9L752.5 270.8L753.0 271.2L753.5 271.3L754.0 271.4L754.5 271.7L755.0 272.2L755.5 272.2L756.0 271.4L756.5 270.7L757.0 271.0L757.5 271.9L758.0 272.3L758.5 272.6L759.0 273.2L759.5 273.5L760.0 273.2L760.5 272.5L761.0 271.4L761.5 271.2L762.0 271.5L762.5 271.9L763.0 272.2L763.5 272.0L764.0 271.5L764.5 270.8L765.0 271.1L765.5 272.2L766.0 272.0L766.5 271.6L767.0 272.7L767.5 273.8L768.0 273.4L768.5 272.5L769.0 271.8L769.5 272.0L770.0 273.3L770.5 273.7L771.0 272.2L771.5 271.3L772.0 272.3L772.5 272.1L773.0 270.9L773.5 272.3L774.0 274.1L774.5 273.7L775.0 273.0L775.5 272.9L776.0 272.6L776.5 271.4L777.0 271.2L777.5 271.6L778.0 271.6L778.5 271.1L779.0 270.8L779.5 271.8L780.0 272.4L780.5 271.9L781.0 272.1L781.5 272.2L782.0 270.8L782.5 269.9L783.0 270.0L783.5 270.2L784.0 270.3L784.5 270.5L785.0 270.1L785.5 269.2L786.0 269.7L786.5 271.1L787.0 271.0L787.5 270.5L788.0 270.5L788.5 270.8L789.0 271.2L789.5 270.9L790.0 269.9L790.5 269.2L791.0 268.8L791.5 269.4L792.0 270.3L792.5 269.2L793.0 268.0L793.5 268.4L794.0 269.2L794.5 269.5L795.0 269.4L795.5 269.9L796.0 270.5L796.5 271.3L797.0 272.4L797.5 272.6L798.0 270.9L798.5 268.9L799.0 268.7L799.5 269.9L800.0 270.9L800.5 270.6L801.0 270.0L801.5 269.5L802.0 269.5L802.5 269.4L803.0 269.0L803.5 269.5L804.0 269.6L804.5 269.2L805.0 269.8L805.5 270.0L806.0 269.1L806.5 268.4L807.0 268.1L807.5 268.1L808.0 268.4L808.5 268.3L809.0 268.1L809.5 267.7L810.0 267.3L810.5 268.0L811.0 268.7L811.5 268.5L812.0 269.2L812.5 271.0L813.0 270.9L813.5 270.1L814.0 270.1L814.5 270.7L815.0 271.2L815.5 270.8L816.0 271.1L816.5 271.7L817.0 271.5L817.5 271.6L818.0 271.3L818.5 271.3L819.0 271.4L819.5 271.5L820.0 271.7L820.5 271.4L821.0 271.3L821.5 272.2L822.0 272.9L822.5 273.2L823.0 272.5L823.5 271.5L824.0 272.3L824.5 272.5L825.0 271.7L825.5 272.2L826.0 272.2L826.5 270.6L827.0 269.6L827.5 271.0L828.0 272.5L828.5 271.3L829.0 269.7L829.5 269.5L830.0 269.4L830.5 269.6L831.0 269.2L831.5 268.5L832.0 269.8L832.5 270.9L833.0 270.0L833.5 269.8L834.0 269.8L834.5 268.7L835.0 267.8L835.5 268.2L836.0 269.1L836.5 269.8L837.0 269.9L837.5 270.3L838.0 270.6L838.5 270.1L839.0 269.4L839.5 269.9L840.0 270.5L840.5 269.8L841.0 269.6L841.5 269.9L842.0 269.9L842.5 269.3L843.0 270.3L843.5 272.4L844.0 272.2L844.5 270.8L845.0 271.0L845.5 271.5L846.0 271.5L846.5 271.4L847.0 271.1L847.5 271.0" fill="none" stroke="#ab66e4" stroke-width="2.8" stroke-linejoin="round"/>
<rect x="47.5" y="5.0" width="800.7" height="589.8" fill="none" stroke="#0a0a0a" stroke-width="3.0"/>
<line x1="46.85" y1="594.8" x2="46.85" y2="600.5999999999999" stroke="#0a0a0a" stroke-width="2.7"/>
<line x1="100.30" y1="594.8" x2="100.30" y2="606.3" stroke="#0a0a0a" stroke-width="2.7"/>
<text x="100.30" y="633.2" font-size="24.5" text-anchor="middle" fill="#1a1a1a" stroke="#1a1a1a" stroke-width="0.5">600</text>
<line x1="153.75" y1="594.8" x2="153.75" y2="600.5999999999999" stroke="#0a0a0a" stroke-width="2.7"/>
<line x1="207.20" y1="594.8" x2="207.20" y2="606.3" stroke="#0a0a0a" stroke-width="2.7"/>
<text x="207.20" y="633.2" font-size="24.5" text-anchor="middle" fill="#1a1a1a" stroke="#1a1a1a" stroke-width="0.5">800</text>
<line x1="260.65" y1="594.8" x2="260.65" y2="600.5999999999999" stroke="#0a0a0a" stroke-width="2.7"/>
<line x1="314.10" y1="594.8" x2="314.10" y2="606.3" stroke="#0a0a0a" stroke-width="2.7"/>
<text x="314.10" y="633.2" font-size="24.5" text-anchor="middle" fill="#1a1a1a" stroke="#1a1a1a" stroke-width="0.5">1000</text>
<line x1="367.55" y1="594.8" x2="367.55" y2="600.5999999999999" stroke="#0a0a0a" stroke-width="2.7"/>
<line x1="421.00" y1="594.8" x2="421.00" y2="606.3" stroke="#0a0a0a" stroke-width="2.7"/>
<text x="421.00" y="633.2" font-size="24.5" text-anchor="middle" fill="#1a1a1a" stroke="#1a1a1a" stroke-width="0.5">1200</text>
<line x1="474.45" y1="594.8" x2="474.45" y2="600.5999999999999" stroke="#0a0a0a" stroke-width="2.7"/>
<line x1="527.90" y1="594.8" x2="527.90" y2="606.3" stroke="#0a0a0a" stroke-width="2.7"/>
<text x="527.90" y="633.2" font-size="24.5" text-anchor="middle" fill="#1a1a1a" stroke="#1a1a1a" stroke-width="0.5">1400</text>
<line x1="581.35" y1="594.8" x2="581.35" y2="600.5999999999999" stroke="#0a0a0a" stroke-width="2.7"/>
<line x1="634.80" y1="594.8" x2="634.80" y2="606.3" stroke="#0a0a0a" stroke-width="2.7"/>
<text x="634.80" y="633.2" font-size="24.5" text-anchor="middle" fill="#1a1a1a" stroke="#1a1a1a" stroke-width="0.5">1600</text>
<line x1="688.25" y1="594.8" x2="688.25" y2="600.5999999999999" stroke="#0a0a0a" stroke-width="2.7"/>
<line x1="741.70" y1="594.8" x2="741.70" y2="606.3" stroke="#0a0a0a" stroke-width="2.7"/>
<text x="741.70" y="633.2" font-size="24.5" text-anchor="middle" fill="#1a1a1a" stroke="#1a1a1a" stroke-width="0.5">1800</text>
<line x1="795.15" y1="594.8" x2="795.15" y2="600.5999999999999" stroke="#0a0a0a" stroke-width="2.7"/>
<line x1="848.60" y1="594.8" x2="848.60" y2="606.3" stroke="#0a0a0a" stroke-width="2.7"/>
<text x="848.60" y="633.2" font-size="24.5" text-anchor="middle" fill="#1a1a1a" stroke="#1a1a1a" stroke-width="0.5">2000</text>
<text x="322.3" y="681.6" font-size="33.2" fill="#1a1a1a" stroke="#1a1a1a" stroke-width="0.5">Raman shift (cm<tspan font-size="21" dy="-14.5">-1</tspan><tspan dy="14.5">)</tspan></text>
<text transform="translate(26.6,393.2) rotate(-90)" font-size="32.8" fill="#1a1a1a" stroke="#1a1a1a" stroke-width="0.5">Intensity (a.u.)</text>
<line x1="121.9" y1="61" x2="121.9" y2="119.4" stroke="#2a2a2a" stroke-width="2.8"/>
<text x="129.6" y="102.4" font-size="29" fill="#1a1a1a" stroke="#1a1a1a" stroke-width="0.5">1000</text>
<line x1="517" y1="33.4" x2="587.5" y2="33.4" stroke="#ab66e4" stroke-width="3"/>
<text x="595" y="44.2" font-size="29" fill="#1a1a1a" stroke="#1a1a1a" stroke-width="0.5">R6G</text>
<text x="659.8" y="44.2" font-size="29" fill="#1a1a1a" stroke="#1a1a1a" stroke-width="0.5">10</text>
<text x="690.2" y="31.5" font-size="21" fill="#1a1a1a" stroke="#1a1a1a" stroke-width="0.5">-9</text>
<text x="715.8" y="44.2" font-size="29" fill="#1a1a1a" stroke="#1a1a1a" stroke-width="0.5">M</text>
<line x1="517" y1="75.2" x2="587.5" y2="75.2" stroke="#23a85a" stroke-width="3"/>
<text x="595" y="86.0" font-size="29" fill="#1a1a1a" stroke="#1a1a1a" stroke-width="0.5">R6G</text>
<text x="659.8" y="86.0" font-size="29" fill="#1a1a1a" stroke="#1a1a1a" stroke-width="0.5">10</text>
<text x="690.2" y="73.3" font-size="21" fill="#1a1a1a" stroke="#1a1a1a" stroke-width="0.5">-10</text>
<text x="726.3" y="86.0" font-size="29" fill="#1a1a1a" stroke="#1a1a1a" stroke-width="0.5">M</text>
<line x1="517" y1="116.8" x2="587.5" y2="116.8" stroke="#0c5ade" stroke-width="3"/>
<text x="595" y="127.6" font-size="29" fill="#1a1a1a" stroke="#1a1a1a" stroke-width="0.5">R6G</text>
<text x="659.8" y="127.6" font-size="29" fill="#1a1a1a" stroke="#1a1a1a" stroke-width="0.5">10</text>
<text x="690.2" y="114.9" font-size="21" fill="#1a1a1a" stroke="#1a1a1a" stroke-width="0.5">-11</text>
<text x="726.3" y="127.6" font-size="29" fill="#1a1a1a" stroke="#1a1a1a" stroke-width="0.5">M</text>
<line x1="517" y1="158.7" x2="587.5" y2="158.7" stroke="#fb2a2a" stroke-width="3"/>
<text x="595" y="169.5" font-size="29" fill="#1a1a1a" stroke="#1a1a1a" stroke-width="0.5">R6G</text>
<text x="659.8" y="169.5" font-size="29" fill="#1a1a1a" stroke="#1a1a1a" stroke-width="0.5">10</text>
<text x="690.2" y="156.8" font-size="21" fill="#1a1a1a" stroke="#1a1a1a" stroke-width="0.5">-12</text>
<text x="726.3" y="169.5" font-size="29" fill="#1a1a1a" stroke="#1a1a1a" stroke-width="0.5">M</text>
<line x1="517" y1="200.5" x2="587.5" y2="200.5" stroke="#404040" stroke-width="3"/>
<text x="595" y="211.3" font-size="29" fill="#1a1a1a" stroke="#1a1a1a" stroke-width="0.5">R6G</text>
<text x="659.8" y="211.3" font-size="29" fill="#1a1a1a" stroke="#1a1a1a" stroke-width="0.5">10</text>
<text x="690.2" y="198.6" font-size="21" fill="#1a1a1a" stroke="#1a1a1a" stroke-width="0.5">-13</text>
<text x="726.3" y="211.3" font-size="29" fill="#1a1a1a" stroke="#1a1a1a" stroke-width="0.5">M</text>
<rect x="1029.5" y="5.0" width="783.5" height="577.7" fill="none" stroke="#0a0a0a" stroke-width="3.0"/>
<line x1="1017.5" y1="578.50" x2="1029.5" y2="578.50" stroke="#0a0a0a" stroke-width="2.7"/>
<text x="1009.3" y="588.20" font-size="31" text-anchor="end" fill="#1a1a1a" stroke="#1a1a1a" stroke-width="0.5">0</text>
<line x1="1023.5" y1="447.80" x2="1029.5" y2="447.80" stroke="#0a0a0a" stroke-width="2.7"/>
<line x1="1017.5" y1="317.10" x2="1029.5" y2="317.10" stroke="#0a0a0a" stroke-width="2.7"/>
<text x="1009.3" y="326.80" font-size="31" text-anchor="end" fill="#1a1a1a" stroke="#1a1a1a" stroke-width="0.5">2000</text>
<line x1="1023.5" y1="186.40" x2="1029.5" y2="186.40" stroke="#0a0a0a" stroke-width="2.7"/>
<line x1="1017.5" y1="55.70" x2="1029.5" y2="55.70" stroke="#0a0a0a" stroke-width="2.7"/>
<text x="1009.3" y="65.40" font-size="31" text-anchor="end" fill="#1a1a1a" stroke="#1a1a1a" stroke-width="0.5">4000</text>
<line x1="1107.60" y1="582.7" x2="1107.60" y2="594.5" stroke="#0a0a0a" stroke-width="2.7"/>
<text x="1107.60" y="627.6" font-size="31" text-anchor="middle" fill="#1a1a1a" stroke="#1a1a1a" stroke-width="0.5">-13</text>
<line x1="1264.30" y1="582.7" x2="1264.30" y2="594.5" stroke="#0a0a0a" stroke-width="2.7"/>
<text x="1264.30" y="627.6" font-size="31" text-anchor="middle" fill="#1a1a1a" stroke="#1a1a1a" stroke-width="0.5">-12</text>
<line x1="1421.00" y1="582.7" x2="1421.00" y2="594.5" stroke="#0a0a0a" stroke-width="2.7"/>
<text x="1421.00" y="627.6" font-size="31" text-anchor="middle" fill="#1a1a1a" stroke="#1a1a1a" stroke-width="0.5">-11</text>
<line x1="1577.70" y1="582.7" x2="1577.70" y2="594.5" stroke="#0a0a0a" stroke-width="2.7"/>
<text x="1577.70" y="627.6" font-size="31" text-anchor="middle" fill="#1a1a1a" stroke="#1a1a1a" stroke-width="0.5">-10</text>
<line x1="1734.40" y1="582.7" x2="1734.40" y2="594.5" stroke="#0a0a0a" stroke-width="2.7"/>
<text x="1734.40" y="627.6" font-size="31" text-anchor="middle" fill="#1a1a1a" stroke="#1a1a1a" stroke-width="0.5">-9</text>
<text transform="translate(911,364.5) rotate(-90)" font-size="30.5" fill="#1a1a1a" stroke="#1a1a1a" stroke-width="0.5">Intensity (a.u.)</text>
<text x="1366.5" y="678" font-size="33" fill="#1a1a1a" stroke="#1a1a1a" stroke-width="0.5">log</text>
<text x="1421.3" y="678" font-size="33" fill="#1a1a1a" stroke="#1a1a1a" stroke-width="0.5">(C</text>
<text x="1456.8" y="686.1" font-size="22.8" fill="#1a1a1a" stroke="#1a1a1a" stroke-width="0.5">R6G</text>
<text x="1502.5" y="678" font-size="33" fill="#1a1a1a" stroke="#1a1a1a" stroke-width="0.5">)</text>
<text x="1174" y="125.6" font-size="34" fill="#1a1a1a" stroke="#1a1a1a" stroke-width="0.5">R</text>
<text x="1195.5" y="110.6" font-size="22" fill="#1a1a1a" stroke="#1a1a1a" stroke-width="0.5">2</text>
<text x="1206.8" y="125.6" font-size="34" fill="#1a1a1a" stroke="#1a1a1a" stroke-width="0.5">=0.949</text>
<rect x="1101.10" y="543.38" width="13" height="13" fill="#1a0a40"/>
<rect x="1100.60" y="544.38" width="14" height="11" fill="#8a22ff" opacity="0.75"/>
<rect x="1106.00" y="542.88" width="3.2" height="14" fill="#8a22ff"/>
<line x1="1264.30" y1="462.13" x2="1264.30" y2="477.13" stroke="#8a22ff" stroke-width="3"/>
<line x1="1257.30" y1="462.13" x2="1271.30" y2="462.13" stroke="#8a22ff" stroke-width="3"/>
<line x1="1257.30" y1="477.13" x2="1271.30" y2="477.13" stroke="#8a22ff" stroke-width="3"/>
<rect x="1257.90" y="463.23" width="12.8" height="12.8" fill="#000"/>
<line x1="1421.00" y1="352.24" x2="1421.00" y2="374.24" stroke="#8a22ff" stroke-width="3"/>
<line x1="1414.00" y1="352.24" x2="1428.00" y2="352.24" stroke="#8a22ff" stroke-width="3"/>
<line x1="1414.00" y1="374.24" x2="1428.00" y2="374.24" stroke="#8a22ff" stroke-width="3"/>
<rect x="1414.60" y="356.84" width="12.8" height="12.8" fill="#000"/>
<line x1="1577.70" y1="283.19" x2="1577.70" y2="311.80" stroke="#8a22ff" stroke-width="3"/>
<line x1="1570.70" y1="283.19" x2="1584.70" y2="283.19" stroke="#8a22ff" stroke-width="3"/>
<line x1="1570.70" y1="311.80" x2="1584.70" y2="311.80" stroke="#8a22ff" stroke-width="3"/>
<rect x="1571.30" y="291.10" width="12.8" height="12.8" fill="#000"/>
<line x1="1734.40" y1="20.95" x2="1734.40" y2="65.35" stroke="#8a22ff" stroke-width="3"/>
<line x1="1727.40" y1="20.95" x2="1741.40" y2="20.95" stroke="#8a22ff" stroke-width="3"/>
<line x1="1727.40" y1="65.35" x2="1741.40" y2="65.35" stroke="#8a22ff" stroke-width="3"/>
<rect x="1728.00" y="36.75" width="12.8" height="12.8" fill="#000"/>
<line x1="1107.5" y1="552.3" x2="1735" y2="163.2" stroke="#ff1010" stroke-width="3.2" stroke-linecap="round" stroke-dasharray="10.3 11.7 0.8 11.76"/>
</g>
</svg>
</div></body></html>
